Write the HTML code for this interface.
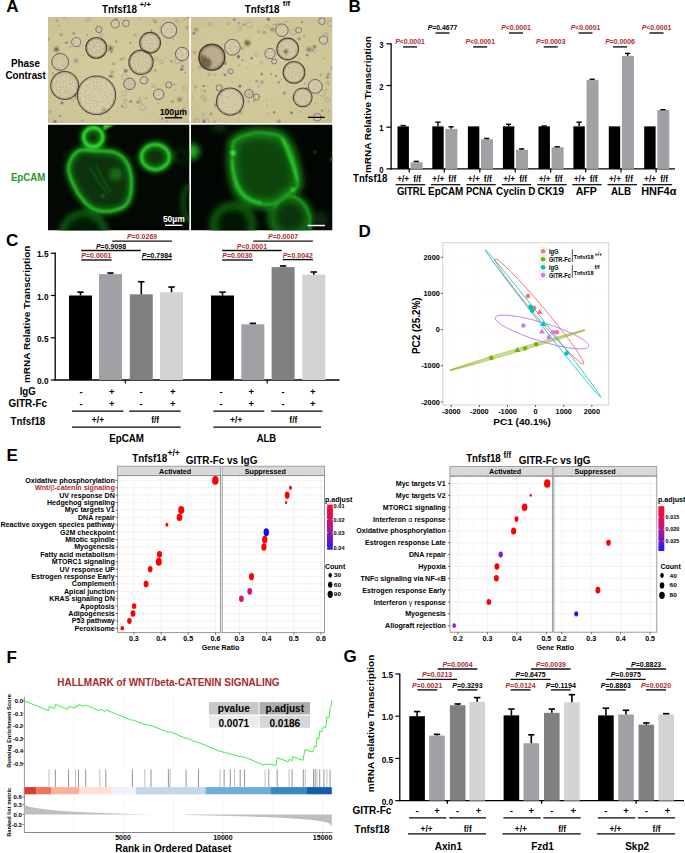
<!DOCTYPE html><html><head><meta charset="utf-8"><style>html,body{margin:0;padding:0;background:#fff;overflow:hidden;}svg{display:block;} text{font-family:"Liberation Sans", sans-serif;}</style></head><body>
<svg width="685" height="853" viewBox="0 0 685 853">
<defs>
<radialGradient id="beigeGrad" cx="0.5" cy="0.5" r="0.75"><stop offset="0" stop-color="#d5cc9e"/><stop offset="0.7" stop-color="#cfc697"/><stop offset="1" stop-color="#c9bf90"/></radialGradient>
<filter id="speck" x="0" y="0" width="1" height="1"><feTurbulence type="fractalNoise" baseFrequency="0.35" numOctaves="2" seed="3"/><feColorMatrix type="matrix" values="0 0 0 0 0.35  0 0 0 0 0.25  0 0 0 0 0.45  0 0 0 -2.2 1.25"/></filter>
<filter id="grain" x="0" y="0" width="1" height="1"><feTurbulence type="fractalNoise" baseFrequency="0.6" numOctaves="2" seed="7"/><feColorMatrix type="matrix" values="0 0 0 0 0.45  0 0 0 0 0.40  0 0 0 0 0.28  0 0 0 -2.0 1.12"/></filter>
<filter id="grainL" x="0" y="0" width="1" height="1"><feTurbulence type="fractalNoise" baseFrequency="0.7" numOctaves="1" seed="21"/><feColorMatrix type="matrix" values="0 0 0 0 0.88  0 0 0 0 0.86  0 0 0 0 0.70  0 0 0 1.5 -0.78"/></filter>
<filter id="blobf" x="-50%" y="-50%" width="200%" height="200%"><feGaussianBlur stdDeviation="0.9"/></filter>
<filter id="soft" x="0" y="0" width="1" height="1"><feGaussianBlur stdDeviation="0.55"/></filter>
<filter id="soft2" x="-5%" y="-5%" width="110%" height="110%"><feGaussianBlur stdDeviation="0.3"/></filter>
<filter id="glowB" x="-20%" y="-20%" width="140%" height="140%"><feGaussianBlur stdDeviation="2.4"/></filter>
<filter id="glowC" x="-20%" y="-20%" width="140%" height="140%"><feGaussianBlur stdDeviation="3.2"/></filter>
<filter id="glowW" x="-20%" y="-20%" width="140%" height="140%"><feGaussianBlur stdDeviation="2.2"/></filter>
<filter id="glow" x="-20%" y="-20%" width="140%" height="140%"><feGaussianBlur stdDeviation="0.8"/></filter>
<filter id="glow2" x="-20%" y="-20%" width="140%" height="140%"><feGaussianBlur stdDeviation="1.3"/></filter>
<clipPath id="clip48"><rect x="48" y="17" width="141.5" height="106"/></clipPath>
<clipPath id="clip191"><rect x="191" y="17" width="141.5" height="106"/></clipPath>
<clipPath id="clipE48"><rect x="48" y="124.5" width="141.5" height="106"/></clipPath>
<linearGradient id="padj" x1="0" y1="0" x2="0" y2="1"><stop offset="0" stop-color="#ff0a2a"/><stop offset="0.5" stop-color="#c0148e"/><stop offset="1" stop-color="#2a14ff"/></linearGradient>
<clipPath id="clipD"><rect x="443.3" y="243.2" width="165" height="161.3"/></clipPath>
<clipPath id="clipE191"><rect x="191" y="124.5" width="141.5" height="106"/></clipPath>
</defs>
<defs><clipPath id="cc48"><circle cx="96.5" cy="95.3" r="19.2"/><circle cx="64.7" cy="85.5" r="14.0"/><circle cx="60.2" cy="61.9" r="8.4"/><circle cx="96.3" cy="47.9" r="10.4"/><circle cx="141.0" cy="62.3" r="12.1"/><circle cx="150.1" cy="42.7" r="10.4"/><circle cx="168.9" cy="30.2" r="7.9"/><circle cx="182.1" cy="54.0" r="6.7"/><circle cx="76.2" cy="42.1" r="4.6"/><circle cx="129.5" cy="83.9" r="5.8"/><circle cx="158.7" cy="94.3" r="5.2"/><circle cx="125.9" cy="23.3" r="3.3"/><circle cx="98.8" cy="29.6" r="3.1"/><circle cx="144.1" cy="80.3" r="3.8"/><circle cx="168.7" cy="84.9" r="3.1"/><circle cx="115.3" cy="23.9" r="4.2"/></clipPath><clipPath id="cc191"><circle cx="211.9" cy="57.3" r="12.9"/><circle cx="232.4" cy="47.3" r="7.9"/><circle cx="230.1" cy="101.6" r="13.6"/><circle cx="287.7" cy="49.0" r="10.9"/><circle cx="294.0" cy="72.4" r="10.9"/><circle cx="302.7" cy="97.4" r="9.4"/><circle cx="315.3" cy="86.4" r="6.9"/><circle cx="281.9" cy="30.2" r="6.3"/><circle cx="270.0" cy="53.6" r="5.2"/><circle cx="248.9" cy="93.7" r="4.2"/><circle cx="323.6" cy="40.0" r="4.2"/><circle cx="298.6" cy="30.2" r="2.9"/><circle cx="321.9" cy="21.2" r="3.3"/><circle cx="256.4" cy="97.0" r="3.1"/><circle cx="219.2" cy="88.0" r="3.1"/><circle cx="230.7" cy="71.3" r="2.5"/><circle cx="317.3" cy="117.3" r="3.8"/><circle cx="274.1" cy="61.5" r="2.5"/></clipPath></defs>
<rect x="0" y="0" width="685" height="853" fill="#fff"/>
<text x="6.20" y="12.30" font-size="17" text-anchor="start" font-weight="bold" fill="#000">A</text>
<text x="348.60" y="12.30" font-size="17" text-anchor="start" font-weight="bold" fill="#000">B</text>
<text x="102.10" y="13.10" font-size="11" text-anchor="start" font-weight="bold" fill="#000" textLength="34.90" lengthAdjust="spacingAndGlyphs">Tnfsf18</text>
<text x="139.40" y="7.30" font-size="7" text-anchor="start" font-weight="bold" fill="#000" textLength="11.70" lengthAdjust="spacingAndGlyphs">+/+</text>
<text x="244.70" y="13.10" font-size="11" text-anchor="start" font-weight="bold" fill="#000" textLength="34.80" lengthAdjust="spacingAndGlyphs">Tnfsf18</text>
<text x="282.80" y="6.30" font-size="7" text-anchor="start" font-weight="bold" fill="#000" textLength="7.40" lengthAdjust="spacingAndGlyphs">f/f</text>
<text x="25.45" y="66.50" font-size="10.8" text-anchor="middle" font-weight="bold" fill="#000" textLength="29.10" lengthAdjust="spacingAndGlyphs">Phase</text>
<text x="25.65" y="78.50" font-size="10.8" text-anchor="middle" font-weight="bold" fill="#000" textLength="40.30" lengthAdjust="spacingAndGlyphs">Contrast</text>
<text x="28.10" y="180.70" font-size="10.6" text-anchor="middle" font-weight="bold" fill="#2a962a" textLength="34.40" lengthAdjust="spacingAndGlyphs">EpCAM</text>
<g clip-path="url(#clip48)">
<rect x="48.00" y="17.00" width="141.50" height="106.00" fill="url(#beigeGrad)" />
<g filter="url(#soft)">
<circle cx="112.0" cy="76.3" r="1.77" fill="#8a7a40" opacity="0.45"/><circle cx="169.0" cy="37.1" r="1.43" fill="#8a7a40" opacity="0.53"/><circle cx="160.2" cy="27.0" r="0.55" fill="#6c4f8c" opacity="0.49"/><circle cx="174.0" cy="84.3" r="0.97" fill="#8a7a40" opacity="0.68"/><circle cx="140.5" cy="82.2" r="0.44" fill="#6c4f8c" opacity="0.62"/><circle cx="56.9" cy="20.8" r="1.64" fill="#6a5a50" opacity="0.26"/><circle cx="113.6" cy="63.7" r="1.54" fill="#6a5a50" opacity="0.36"/><circle cx="89.6" cy="17.5" r="0.41" fill="#9c8cb8" opacity="0.38"/><circle cx="189.2" cy="122.5" r="1.53" fill="#9c8cb8" opacity="0.36"/><circle cx="155.3" cy="71.4" r="0.40" fill="#6a5a50" opacity="0.59"/><circle cx="104.7" cy="106.7" r="0.64" fill="#6c4f8c" opacity="0.63"/><circle cx="48.1" cy="39.2" r="1.73" fill="#8a7a40" opacity="0.42"/><circle cx="148.3" cy="61.5" r="0.91" fill="#7b5f98" opacity="0.60"/><circle cx="86.2" cy="26.2" r="0.58" fill="#8a7a40" opacity="0.59"/><circle cx="64.7" cy="43.1" r="0.42" fill="#6c4f8c" opacity="0.46"/><circle cx="116.9" cy="89.3" r="0.46" fill="#6a5a50" opacity="0.34"/><circle cx="151.6" cy="30.9" r="1.06" fill="#6c4f8c" opacity="0.43"/><circle cx="188.1" cy="17.0" r="1.60" fill="#6a5a50" opacity="0.39"/><circle cx="173.2" cy="39.3" r="0.65" fill="#6a5a50" opacity="0.54"/><circle cx="62.2" cy="121.9" r="0.47" fill="#5a4a70" opacity="0.25"/><circle cx="134.4" cy="105.0" r="0.64" fill="#6c4f8c" opacity="0.29"/><circle cx="130.5" cy="42.8" r="0.98" fill="#5a4a70" opacity="0.53"/><circle cx="66.0" cy="79.3" r="1.51" fill="#7b5f98" opacity="0.64"/><circle cx="73.9" cy="33.3" r="1.72" fill="#6a5a50" opacity="0.36"/><circle cx="74.9" cy="95.4" r="1.81" fill="#7b5f98" opacity="0.56"/><circle cx="102.9" cy="68.1" r="0.41" fill="#6c4f8c" opacity="0.30"/><circle cx="53.5" cy="119.0" r="0.49" fill="#9c8cb8" opacity="0.43"/><circle cx="107.5" cy="112.9" r="0.79" fill="#6a5a50" opacity="0.33"/><circle cx="149.9" cy="24.3" r="0.48" fill="#6a5a50" opacity="0.54"/><circle cx="135.1" cy="24.9" r="0.47" fill="#7b5f98" opacity="0.59"/><circle cx="57.8" cy="60.6" r="0.50" fill="#6c4f8c" opacity="0.33"/><circle cx="100.2" cy="77.6" r="0.43" fill="#5a4a70" opacity="0.31"/><circle cx="111.7" cy="52.1" r="1.26" fill="#6a5a50" opacity="0.51"/><circle cx="67.9" cy="20.7" r="0.40" fill="#5a4a70" opacity="0.57"/><circle cx="184.2" cy="19.3" r="1.05" fill="#8a7a40" opacity="0.28"/><circle cx="92.0" cy="31.5" r="0.41" fill="#8a7a40" opacity="0.50"/><circle cx="152.3" cy="112.4" r="1.27" fill="#9c8cb8" opacity="0.31"/><circle cx="184.3" cy="53.2" r="0.41" fill="#8a7a40" opacity="0.66"/><circle cx="171.3" cy="61.2" r="1.40" fill="#8a7a40" opacity="0.51"/><circle cx="136.4" cy="57.5" r="0.94" fill="#6a5a50" opacity="0.28"/><circle cx="60.8" cy="29.3" r="0.51" fill="#8a7a40" opacity="0.58"/><circle cx="103.0" cy="94.9" r="0.94" fill="#8a7a40" opacity="0.46"/><circle cx="124.6" cy="72.0" r="0.82" fill="#5a4a70" opacity="0.52"/><circle cx="116.1" cy="41.4" r="1.18" fill="#8a7a40" opacity="0.60"/><circle cx="141.4" cy="68.5" r="1.69" fill="#5a4a70" opacity="0.39"/><circle cx="144.0" cy="38.5" r="0.45" fill="#5a4a70" opacity="0.55"/><circle cx="110.5" cy="111.5" r="0.57" fill="#9c8cb8" opacity="0.36"/><circle cx="137.7" cy="102.2" r="1.31" fill="#7b5f98" opacity="0.65"/><circle cx="102.4" cy="78.8" r="0.56" fill="#7b5f98" opacity="0.31"/><circle cx="97.6" cy="111.9" r="0.40" fill="#6c4f8c" opacity="0.68"/><circle cx="87.2" cy="34.9" r="0.72" fill="#5a4a70" opacity="0.67"/><circle cx="165.6" cy="57.6" r="0.83" fill="#9c8cb8" opacity="0.39"/><circle cx="166.7" cy="121.1" r="0.73" fill="#6c4f8c" opacity="0.62"/><circle cx="87.4" cy="81.4" r="1.14" fill="#5a4a70" opacity="0.51"/><circle cx="91.7" cy="100.9" r="0.40" fill="#7b5f98" opacity="0.43"/><circle cx="74.9" cy="98.5" r="0.51" fill="#7b5f98" opacity="0.61"/><circle cx="187.2" cy="29.2" r="0.42" fill="#6a5a50" opacity="0.54"/><circle cx="162.2" cy="118.6" r="1.15" fill="#7b5f98" opacity="0.62"/><circle cx="84.2" cy="92.7" r="1.31" fill="#6a5a50" opacity="0.57"/><circle cx="73.3" cy="45.9" r="0.59" fill="#9c8cb8" opacity="0.68"/><circle cx="118.8" cy="122.7" r="0.44" fill="#9c8cb8" opacity="0.66"/><circle cx="60.3" cy="115.9" r="1.23" fill="#7b5f98" opacity="0.45"/><circle cx="75.9" cy="111.1" r="0.40" fill="#6a5a50" opacity="0.51"/><circle cx="172.4" cy="101.5" r="1.83" fill="#8a7a40" opacity="0.40"/><circle cx="187.0" cy="27.5" r="1.60" fill="#9c8cb8" opacity="0.67"/><circle cx="65.5" cy="42.7" r="0.64" fill="#6c4f8c" opacity="0.69"/><circle cx="124.0" cy="100.8" r="0.56" fill="#9c8cb8" opacity="0.64"/><circle cx="97.3" cy="25.8" r="0.71" fill="#6a5a50" opacity="0.44"/><circle cx="86.9" cy="114.5" r="0.48" fill="#6c4f8c" opacity="0.44"/><circle cx="53.0" cy="73.5" r="1.15" fill="#7b5f98" opacity="0.46"/><circle cx="189.5" cy="112.5" r="0.83" fill="#9c8cb8" opacity="0.56"/><circle cx="181.8" cy="69.2" r="1.84" fill="#6c4f8c" opacity="0.59"/><circle cx="110.2" cy="76.2" r="1.51" fill="#6a5a50" opacity="0.54"/><circle cx="122.0" cy="106.4" r="0.90" fill="#5a4a70" opacity="0.55"/><circle cx="183.1" cy="109.2" r="0.99" fill="#5a4a70" opacity="0.63"/><circle cx="185.0" cy="72.6" r="0.93" fill="#7b5f98" opacity="0.43"/><circle cx="64.2" cy="17.5" r="0.63" fill="#6a5a50" opacity="0.69"/><circle cx="121.0" cy="59.5" r="1.43" fill="#6a5a50" opacity="0.30"/><circle cx="61.2" cy="34.7" r="1.79" fill="#8a7a40" opacity="0.44"/><circle cx="183.4" cy="114.9" r="0.52" fill="#8a7a40" opacity="0.47"/><circle cx="96.1" cy="112.5" r="1.80" fill="#8a7a40" opacity="0.49"/><circle cx="63.4" cy="61.5" r="0.40" fill="#5a4a70" opacity="0.31"/><circle cx="158.3" cy="19.4" r="0.46" fill="#7b5f98" opacity="0.26"/><circle cx="88.2" cy="93.7" r="0.50" fill="#8a7a40" opacity="0.30"/><circle cx="151.4" cy="30.0" r="0.82" fill="#5a4a70" opacity="0.57"/><circle cx="147.2" cy="110.1" r="0.40" fill="#9c8cb8" opacity="0.44"/><circle cx="122.9" cy="33.9" r="0.47" fill="#9c8cb8" opacity="0.49"/><circle cx="78.9" cy="39.9" r="0.87" fill="#6a5a50" opacity="0.64"/><circle cx="80.9" cy="95.5" r="1.45" fill="#7b5f98" opacity="0.39"/><circle cx="92.6" cy="114.8" r="0.48" fill="#7b5f98" opacity="0.65"/><circle cx="67.0" cy="42.4" r="1.24" fill="#5a4a70" opacity="0.42"/><circle cx="109.5" cy="116.8" r="0.87" fill="#9c8cb8" opacity="0.31"/><circle cx="105.0" cy="89.6" r="0.40" fill="#7b5f98" opacity="0.51"/><circle cx="98.6" cy="104.0" r="0.61" fill="#9c8cb8" opacity="0.48"/><circle cx="155.3" cy="70.3" r="1.15" fill="#7b5f98" opacity="0.61"/><circle cx="116.2" cy="19.6" r="1.33" fill="#6a5a50" opacity="0.48"/><circle cx="128.5" cy="32.5" r="0.45" fill="#7b5f98" opacity="0.33"/><circle cx="70.4" cy="47.0" r="1.12" fill="#6a5a50" opacity="0.28"/><circle cx="182.6" cy="66.0" r="1.34" fill="#5a4a70" opacity="0.43"/><circle cx="108.3" cy="54.6" r="0.47" fill="#5a4a70" opacity="0.26"/><circle cx="147.2" cy="106.5" r="0.45" fill="#8a7a40" opacity="0.41"/><circle cx="100.4" cy="114.7" r="0.99" fill="#6c4f8c" opacity="0.48"/><circle cx="50.2" cy="111.7" r="1.43" fill="#9c8cb8" opacity="0.64"/><circle cx="176.6" cy="116.6" r="0.92" fill="#7b5f98" opacity="0.48"/><circle cx="187.0" cy="102.3" r="0.51" fill="#6c4f8c" opacity="0.58"/><circle cx="158.1" cy="103.4" r="0.66" fill="#5a4a70" opacity="0.65"/><circle cx="146.3" cy="98.3" r="1.34" fill="#8a7a40" opacity="0.34"/><circle cx="74.2" cy="101.5" r="0.55" fill="#6c4f8c" opacity="0.25"/><circle cx="98.3" cy="84.7" r="1.02" fill="#7b5f98" opacity="0.37"/><circle cx="184.0" cy="48.7" r="0.47" fill="#8a7a40" opacity="0.51"/><circle cx="123.4" cy="58.3" r="2.00" fill="#9c8cb8" opacity="0.35"/><circle cx="64.9" cy="58.9" r="0.93" fill="#6c4f8c" opacity="0.53"/><circle cx="152.5" cy="44.2" r="0.66" fill="#6c4f8c" opacity="0.59"/><circle cx="139.7" cy="18.1" r="0.51" fill="#5a4a70" opacity="0.66"/><circle cx="125.8" cy="70.8" r="1.90" fill="#6a5a50" opacity="0.63"/><circle cx="62.1" cy="64.1" r="1.06" fill="#6a5a50" opacity="0.52"/><circle cx="155.4" cy="21.8" r="1.78" fill="#7b5f98" opacity="0.42"/><circle cx="185.3" cy="107.7" r="0.87" fill="#6a5a50" opacity="0.28"/><circle cx="181.8" cy="61.6" r="0.84" fill="#6a5a50" opacity="0.39"/><circle cx="123.1" cy="68.2" r="0.52" fill="#5a4a70" opacity="0.55"/><circle cx="153.8" cy="19.8" r="1.35" fill="#6a5a50" opacity="0.27"/><circle cx="70.2" cy="97.0" r="0.64" fill="#5a4a70" opacity="0.59"/><circle cx="55.1" cy="121.8" r="1.83" fill="#6c4f8c" opacity="0.61"/><circle cx="79.7" cy="93.2" r="0.50" fill="#7b5f98" opacity="0.27"/><circle cx="61.9" cy="102.9" r="1.72" fill="#7b5f98" opacity="0.69"/><circle cx="163.6" cy="81.0" r="0.42" fill="#6a5a50" opacity="0.44"/><circle cx="64.7" cy="108.3" r="0.60" fill="#7b5f98" opacity="0.31"/><circle cx="110.7" cy="87.8" r="0.73" fill="#5a4a70" opacity="0.54"/><circle cx="144.5" cy="55.6" r="1.29" fill="#7b5f98" opacity="0.68"/><circle cx="151.9" cy="42.3" r="0.42" fill="#5a4a70" opacity="0.60"/><circle cx="136.4" cy="55.1" r="0.52" fill="#9c8cb8" opacity="0.58"/><circle cx="146.9" cy="37.1" r="0.52" fill="#7b5f98" opacity="0.34"/><circle cx="83.2" cy="120.9" r="1.74" fill="#9c8cb8" opacity="0.27"/><circle cx="56.6" cy="45.7" r="0.69" fill="#6a5a50" opacity="0.27"/><circle cx="79.5" cy="46.5" r="1.31" fill="#9c8cb8" opacity="0.32"/><circle cx="81.2" cy="121.0" r="0.77" fill="#5a4a70" opacity="0.34"/><circle cx="96.6" cy="96.0" r="1.53" fill="#6c4f8c" opacity="0.61"/><circle cx="111.3" cy="104.1" r="1.52" fill="#7b5f98" opacity="0.45"/><circle cx="153.7" cy="58.4" r="0.44" fill="#7b5f98" opacity="0.54"/><circle cx="188.0" cy="51.5" r="0.88" fill="#9c8cb8" opacity="0.62"/><circle cx="74.0" cy="86.3" r="0.94" fill="#8a7a40" opacity="0.64"/><circle cx="59.1" cy="25.8" r="0.91" fill="#8a7a40" opacity="0.62"/><circle cx="113.6" cy="104.3" r="0.40" fill="#5a4a70" opacity="0.35"/><circle cx="141.7" cy="25.7" r="0.55" fill="#9c8cb8" opacity="0.59"/><circle cx="94.4" cy="110.5" r="0.48" fill="#9c8cb8" opacity="0.58"/><circle cx="99.8" cy="29.4" r="1.20" fill="#6a5a50" opacity="0.52"/><circle cx="175.7" cy="89.8" r="0.52" fill="#6a5a50" opacity="0.61"/><circle cx="91.1" cy="50.7" r="0.66" fill="#9c8cb8" opacity="0.65"/><circle cx="83.1" cy="55.3" r="0.61" fill="#5a4a70" opacity="0.55"/><circle cx="130.8" cy="101.4" r="1.27" fill="#5a4a70" opacity="0.61"/><circle cx="124.5" cy="105.7" r="2.33" fill="none" stroke="#6d5a86" stroke-width="0.6" opacity="0.45"/><circle cx="73.0" cy="97.4" r="2.96" fill="none" stroke="#6d5a86" stroke-width="0.6" opacity="0.45"/><circle cx="87.8" cy="19.4" r="2.23" fill="none" stroke="#6d5a86" stroke-width="0.6" opacity="0.45"/><circle cx="125.0" cy="77.2" r="3.13" fill="none" stroke="#6d5a86" stroke-width="0.6" opacity="0.45"/><circle cx="140.1" cy="102.3" r="1.33" fill="none" stroke="#6d5a86" stroke-width="0.6" opacity="0.45"/><circle cx="125.4" cy="100.5" r="1.37" fill="none" stroke="#6d5a86" stroke-width="0.6" opacity="0.45"/><circle cx="59.6" cy="95.1" r="3.00" fill="none" stroke="#6d5a86" stroke-width="0.6" opacity="0.45"/><circle cx="60.0" cy="84.2" r="1.49" fill="none" stroke="#6d5a86" stroke-width="0.6" opacity="0.45"/><circle cx="153.5" cy="85.8" r="1.69" fill="none" stroke="#6d5a86" stroke-width="0.6" opacity="0.45"/><circle cx="79.2" cy="98.1" r="2.24" fill="none" stroke="#6d5a86" stroke-width="0.6" opacity="0.45"/><circle cx="156.2" cy="58.8" r="1.88" fill="none" stroke="#6d5a86" stroke-width="0.6" opacity="0.45"/><circle cx="185.0" cy="88.3" r="2.19" fill="none" stroke="#6d5a86" stroke-width="0.6" opacity="0.45"/><circle cx="124.0" cy="93.4" r="2.62" fill="none" stroke="#6d5a86" stroke-width="0.6" opacity="0.45"/><circle cx="177.5" cy="60.5" r="2.85" fill="none" stroke="#6d5a86" stroke-width="0.6" opacity="0.45"/><circle cx="142.3" cy="107.5" r="2.81" fill="none" stroke="#6d5a86" stroke-width="0.6" opacity="0.45"/><circle cx="166.0" cy="111.2" r="3.12" fill="none" stroke="#6d5a86" stroke-width="0.6" opacity="0.45"/><circle cx="138.6" cy="72.5" r="2.62" fill="none" stroke="#6d5a86" stroke-width="0.6" opacity="0.45"/><circle cx="161.5" cy="61.7" r="2.04" fill="none" stroke="#6d5a86" stroke-width="0.6" opacity="0.45"/><circle cx="68.7" cy="95.6" r="3.18" fill="none" stroke="#6d5a86" stroke-width="0.6" opacity="0.45"/><circle cx="101.1" cy="34.8" r="1.61" fill="none" stroke="#6d5a86" stroke-width="0.6" opacity="0.45"/><circle cx="108.1" cy="48.0" r="3.14" fill="none" stroke="#6d5a86" stroke-width="0.6" opacity="0.45"/><circle cx="56.4" cy="49.7" r="1.43" fill="none" stroke="#6d5a86" stroke-width="0.6" opacity="0.45"/><circle cx="139.7" cy="99.2" r="1.56" fill="none" stroke="#6d5a86" stroke-width="0.6" opacity="0.45"/><circle cx="56.8" cy="65.6" r="2.37" fill="none" stroke="#6d5a86" stroke-width="0.6" opacity="0.45"/><circle cx="176.7" cy="20.9" r="1.42" fill="none" stroke="#6d5a86" stroke-width="0.6" opacity="0.45"/>
</g>
<g filter="url(#blobf)">
<circle cx="56.4" cy="49.4" r="2.2" fill="#4a3a20" opacity="0.75"/>
<circle cx="110.7" cy="48.4" r="2.2" fill="#5a4a30" opacity="0.75"/>
<circle cx="76.2" cy="60.9" r="1.6" fill="#6a5a70" opacity="0.75"/>
<circle cx="179.6" cy="99.5" r="2.0" fill="#6a5a40" opacity="0.75"/>
<circle cx="58" cy="76" r="1.5" fill="#6a5a40" opacity="0.75"/>
<circle cx="150" cy="70" r="1.2" fill="#6a5a70" opacity="0.75"/>
<circle cx="112" cy="72" r="1.5" fill="#7a6a80" opacity="0.75"/>
<circle cx="135" cy="35" r="1.2" fill="#7a6a50" opacity="0.75"/>
</g>
<circle cx="96.5" cy="95.3" r="19.2" fill="#d6cda6"/>
<circle cx="64.7" cy="85.5" r="14.0" fill="#d2c9a0"/>
<circle cx="60.2" cy="61.9" r="8.4" fill="#d1c89f"/>
<circle cx="96.3" cy="47.9" r="10.4" fill="#cfc69e"/>
<circle cx="141.0" cy="62.3" r="12.1" fill="#d2c9a0"/>
<circle cx="150.1" cy="42.7" r="10.4" fill="#d0c7a0"/>
<circle cx="168.9" cy="30.2" r="7.9" fill="#d4cba5"/>
<circle cx="182.1" cy="54.0" r="6.7" fill="#d4cba5"/>
<circle cx="76.2" cy="42.1" r="4.6" fill="#d4cba5"/>
<circle cx="129.5" cy="83.9" r="5.8" fill="#cbc2a0"/>
<circle cx="158.7" cy="94.3" r="5.2" fill="#d4cba5"/>
<circle cx="125.9" cy="23.3" r="3.3" fill="#d4cba5"/>
<circle cx="98.8" cy="29.6" r="3.1" fill="#d4cba5"/>
<circle cx="144.1" cy="80.3" r="3.8" fill="#d4cba5"/>
<circle cx="168.7" cy="84.9" r="3.1" fill="#d4cba5"/>
<circle cx="115.3" cy="23.9" r="4.2" fill="#d4cba5"/>
<g clip-path="url(#cc48)"><rect x="48" y="17" width="141.5" height="106" filter="url(#grainL)"/><rect x="48" y="17" width="141.5" height="106" filter="url(#grain)"/></g>
<g filter="url(#blobf)">
<circle cx="104" cy="110" r="2.2" fill="#9a8a68" opacity="0.7"/>
</g>
<g filter="url(#soft2)">
<circle cx="96.5" cy="95.3" r="19.2" fill="none" stroke="#3e3432" stroke-width="1.04" stroke-opacity="0.9"/>
<circle cx="96.5" cy="95.3" r="18.03" fill="none" stroke="#6a6040" stroke-width="0.91" stroke-opacity="0.35"/>
<circle cx="64.7" cy="85.5" r="14.0" fill="none" stroke="#3e3432" stroke-width="1.04" stroke-opacity="0.9"/>
<circle cx="64.7" cy="85.5" r="12.83" fill="none" stroke="#6a6040" stroke-width="0.91" stroke-opacity="0.35"/>
<circle cx="60.2" cy="61.9" r="8.4" fill="none" stroke="#4b3a5e" stroke-width="0.88" stroke-opacity="0.9"/>
<circle cx="96.3" cy="47.9" r="10.4" fill="none" stroke="#3e3432" stroke-width="1.20" stroke-opacity="0.9"/>
<circle cx="96.3" cy="47.9" r="9.05" fill="none" stroke="#6a6040" stroke-width="1.05" stroke-opacity="0.35"/>
<circle cx="141.0" cy="62.3" r="12.1" fill="none" stroke="#3e3432" stroke-width="1.20" stroke-opacity="0.9"/>
<circle cx="141.0" cy="62.3" r="10.75" fill="none" stroke="#6a6040" stroke-width="1.05" stroke-opacity="0.35"/>
<circle cx="150.1" cy="42.7" r="10.4" fill="none" stroke="#3e3432" stroke-width="1.20" stroke-opacity="0.9"/>
<circle cx="150.1" cy="42.7" r="9.05" fill="none" stroke="#6a6040" stroke-width="1.05" stroke-opacity="0.35"/>
<circle cx="168.9" cy="30.2" r="7.9" fill="none" stroke="#4b3a5e" stroke-width="0.80" stroke-opacity="0.9"/>
<circle cx="182.1" cy="54.0" r="6.7" fill="none" stroke="#4b3a5e" stroke-width="0.80" stroke-opacity="0.9"/>
<circle cx="76.2" cy="42.1" r="4.6" fill="none" stroke="#4b3a5e" stroke-width="0.64" stroke-opacity="0.9"/>
<circle cx="129.5" cy="83.9" r="5.8" fill="none" stroke="#4b3a5e" stroke-width="0.80" stroke-opacity="0.9"/>
<circle cx="158.7" cy="94.3" r="5.2" fill="none" stroke="#4b3a5e" stroke-width="0.80" stroke-opacity="0.9"/>
<circle cx="125.9" cy="23.3" r="3.3" fill="none" stroke="#4b3a5e" stroke-width="0.64" stroke-opacity="0.9"/>
<circle cx="98.8" cy="29.6" r="3.1" fill="none" stroke="#4b3a5e" stroke-width="0.64" stroke-opacity="0.9"/>
<circle cx="144.1" cy="80.3" r="3.8" fill="none" stroke="#4b3a5e" stroke-width="0.64" stroke-opacity="0.9"/>
<circle cx="168.7" cy="84.9" r="3.1" fill="none" stroke="#4b3a5e" stroke-width="0.64" stroke-opacity="0.9"/>
<circle cx="115.3" cy="23.9" r="4.2" fill="none" stroke="#4b3a5e" stroke-width="0.64" stroke-opacity="0.9"/>
</g>
</g>
<g clip-path="url(#clip191)">
<rect x="191.00" y="17.00" width="141.50" height="106.00" fill="url(#beigeGrad)" />
<g filter="url(#soft)">
<circle cx="258.2" cy="86.7" r="1.11" fill="#7b5f98" opacity="0.42"/><circle cx="332.0" cy="68.1" r="1.06" fill="#8a7a40" opacity="0.56"/><circle cx="276.1" cy="76.2" r="1.10" fill="#7b5f98" opacity="0.69"/><circle cx="243.0" cy="53.0" r="0.47" fill="#6a5a50" opacity="0.62"/><circle cx="201.6" cy="89.8" r="0.58" fill="#8a7a40" opacity="0.61"/><circle cx="203.4" cy="114.4" r="1.47" fill="#9c8cb8" opacity="0.48"/><circle cx="203.9" cy="121.6" r="1.83" fill="#6c4f8c" opacity="0.55"/><circle cx="328.4" cy="74.2" r="1.64" fill="#6a5a50" opacity="0.32"/><circle cx="289.6" cy="22.4" r="0.45" fill="#6c4f8c" opacity="0.43"/><circle cx="250.3" cy="80.2" r="0.76" fill="#8a7a40" opacity="0.49"/><circle cx="281.7" cy="25.8" r="0.46" fill="#9c8cb8" opacity="0.37"/><circle cx="324.2" cy="108.8" r="0.64" fill="#5a4a70" opacity="0.30"/><circle cx="224.2" cy="55.5" r="0.82" fill="#6a5a50" opacity="0.33"/><circle cx="244.9" cy="108.1" r="0.40" fill="#6c4f8c" opacity="0.35"/><circle cx="251.5" cy="58.2" r="1.35" fill="#6c4f8c" opacity="0.59"/><circle cx="222.2" cy="25.3" r="0.52" fill="#8a7a40" opacity="0.37"/><circle cx="239.7" cy="84.5" r="0.40" fill="#8a7a40" opacity="0.42"/><circle cx="239.1" cy="65.3" r="1.18" fill="#8a7a40" opacity="0.36"/><circle cx="330.9" cy="66.3" r="0.88" fill="#7b5f98" opacity="0.34"/><circle cx="296.9" cy="113.7" r="0.40" fill="#5a4a70" opacity="0.66"/><circle cx="304.4" cy="36.0" r="1.41" fill="#6a5a50" opacity="0.27"/><circle cx="278.6" cy="121.3" r="2.00" fill="#6a5a50" opacity="0.32"/><circle cx="322.2" cy="110.5" r="1.12" fill="#5a4a70" opacity="0.54"/><circle cx="223.5" cy="72.9" r="0.76" fill="#9c8cb8" opacity="0.41"/><circle cx="287.9" cy="64.2" r="1.27" fill="#8a7a40" opacity="0.38"/><circle cx="314.6" cy="46.5" r="1.83" fill="#6a5a50" opacity="0.54"/><circle cx="254.0" cy="101.0" r="1.26" fill="#6a5a50" opacity="0.36"/><circle cx="287.7" cy="90.6" r="0.43" fill="#5a4a70" opacity="0.44"/><circle cx="225.1" cy="63.1" r="1.94" fill="#6a5a50" opacity="0.51"/><circle cx="292.7" cy="116.3" r="0.51" fill="#6c4f8c" opacity="0.44"/><circle cx="274.3" cy="112.5" r="1.40" fill="#6a5a50" opacity="0.50"/><circle cx="329.7" cy="84.6" r="0.64" fill="#7b5f98" opacity="0.26"/><circle cx="291.5" cy="112.8" r="1.42" fill="#6c4f8c" opacity="0.66"/><circle cx="266.7" cy="100.6" r="0.63" fill="#6c4f8c" opacity="0.57"/><circle cx="217.7" cy="45.7" r="1.41" fill="#9c8cb8" opacity="0.49"/><circle cx="279.0" cy="30.2" r="0.86" fill="#9c8cb8" opacity="0.56"/><circle cx="273.2" cy="24.6" r="0.60" fill="#6c4f8c" opacity="0.56"/><circle cx="211.1" cy="26.6" r="0.56" fill="#9c8cb8" opacity="0.33"/><circle cx="287.0" cy="84.5" r="0.70" fill="#7b5f98" opacity="0.26"/><circle cx="260.0" cy="64.0" r="0.45" fill="#9c8cb8" opacity="0.52"/><circle cx="255.7" cy="110.7" r="0.42" fill="#7b5f98" opacity="0.25"/><circle cx="242.0" cy="46.6" r="0.46" fill="#8a7a40" opacity="0.38"/><circle cx="264.1" cy="32.5" r="1.70" fill="#5a4a70" opacity="0.32"/><circle cx="256.7" cy="81.3" r="1.54" fill="#7b5f98" opacity="0.46"/><circle cx="302.1" cy="22.2" r="1.35" fill="#8a7a40" opacity="0.49"/><circle cx="298.7" cy="58.9" r="1.13" fill="#9c8cb8" opacity="0.27"/><circle cx="206.0" cy="77.5" r="0.56" fill="#9c8cb8" opacity="0.26"/><circle cx="300.7" cy="111.9" r="1.04" fill="#7b5f98" opacity="0.31"/><circle cx="222.9" cy="74.7" r="0.50" fill="#6c4f8c" opacity="0.44"/><circle cx="242.6" cy="60.3" r="1.03" fill="#5a4a70" opacity="0.43"/><circle cx="314.5" cy="112.1" r="0.56" fill="#7b5f98" opacity="0.37"/><circle cx="195.6" cy="86.8" r="1.41" fill="#8a7a40" opacity="0.44"/><circle cx="278.4" cy="44.9" r="0.66" fill="#8a7a40" opacity="0.47"/><circle cx="324.0" cy="103.4" r="0.45" fill="#7b5f98" opacity="0.63"/><circle cx="206.5" cy="45.4" r="1.66" fill="#9c8cb8" opacity="0.64"/><circle cx="307.2" cy="55.0" r="1.26" fill="#5a4a70" opacity="0.60"/><circle cx="312.5" cy="50.0" r="1.62" fill="#9c8cb8" opacity="0.65"/><circle cx="194.5" cy="49.7" r="0.40" fill="#7b5f98" opacity="0.34"/><circle cx="218.9" cy="102.7" r="1.77" fill="#7b5f98" opacity="0.60"/><circle cx="268.3" cy="19.3" r="1.73" fill="#5a4a70" opacity="0.56"/><circle cx="266.9" cy="64.5" r="0.85" fill="#9c8cb8" opacity="0.31"/><circle cx="246.6" cy="68.6" r="0.54" fill="#5a4a70" opacity="0.54"/><circle cx="246.0" cy="61.0" r="0.83" fill="#9c8cb8" opacity="0.63"/><circle cx="193.9" cy="33.4" r="1.32" fill="#5a4a70" opacity="0.56"/><circle cx="326.3" cy="89.3" r="0.69" fill="#8a7a40" opacity="0.68"/><circle cx="244.1" cy="24.6" r="1.75" fill="#5a4a70" opacity="0.28"/><circle cx="206.3" cy="25.9" r="0.41" fill="#6c4f8c" opacity="0.67"/><circle cx="195.4" cy="89.8" r="0.91" fill="#9c8cb8" opacity="0.68"/><circle cx="296.7" cy="117.7" r="0.40" fill="#7b5f98" opacity="0.51"/><circle cx="304.7" cy="83.7" r="0.74" fill="#5a4a70" opacity="0.44"/><circle cx="267.8" cy="50.5" r="0.49" fill="#6c4f8c" opacity="0.55"/><circle cx="238.7" cy="23.2" r="1.42" fill="#9c8cb8" opacity="0.67"/><circle cx="242.3" cy="48.6" r="1.76" fill="#6a5a50" opacity="0.31"/><circle cx="230.3" cy="37.9" r="0.42" fill="#8a7a40" opacity="0.58"/><circle cx="307.9" cy="97.3" r="0.58" fill="#8a7a40" opacity="0.59"/><circle cx="315.8" cy="103.0" r="0.59" fill="#6a5a50" opacity="0.54"/><circle cx="278.7" cy="23.8" r="0.59" fill="#5a4a70" opacity="0.53"/><circle cx="208.9" cy="74.3" r="1.85" fill="#9c8cb8" opacity="0.38"/><circle cx="239.6" cy="122.0" r="0.42" fill="#6a5a50" opacity="0.53"/><circle cx="215.5" cy="75.1" r="0.97" fill="#6a5a50" opacity="0.37"/><circle cx="238.5" cy="56.7" r="1.72" fill="#5a4a70" opacity="0.67"/><circle cx="275.7" cy="24.5" r="1.02" fill="#7b5f98" opacity="0.67"/><circle cx="278.8" cy="82.3" r="1.58" fill="#7b5f98" opacity="0.38"/><circle cx="238.0" cy="86.7" r="0.65" fill="#6a5a50" opacity="0.40"/><circle cx="267.0" cy="105.5" r="0.84" fill="#5a4a70" opacity="0.32"/><circle cx="259.7" cy="26.6" r="0.55" fill="#8a7a40" opacity="0.35"/><circle cx="200.5" cy="89.9" r="0.46" fill="#5a4a70" opacity="0.54"/><circle cx="281.2" cy="79.5" r="0.77" fill="#5a4a70" opacity="0.46"/><circle cx="323.6" cy="58.5" r="0.75" fill="#5a4a70" opacity="0.37"/><circle cx="318.8" cy="37.8" r="0.96" fill="#9c8cb8" opacity="0.47"/><circle cx="284.3" cy="92.9" r="1.55" fill="#5a4a70" opacity="0.41"/><circle cx="234.4" cy="19.6" r="1.67" fill="#5a4a70" opacity="0.43"/><circle cx="327.9" cy="112.7" r="0.44" fill="#6a5a50" opacity="0.44"/><circle cx="235.5" cy="44.5" r="0.67" fill="#6c4f8c" opacity="0.31"/><circle cx="255.1" cy="73.3" r="0.50" fill="#7b5f98" opacity="0.30"/><circle cx="308.7" cy="57.2" r="0.78" fill="#6a5a50" opacity="0.29"/><circle cx="218.2" cy="105.9" r="0.63" fill="#6a5a50" opacity="0.66"/><circle cx="322.8" cy="73.0" r="0.62" fill="#7b5f98" opacity="0.31"/><circle cx="220.3" cy="106.5" r="0.42" fill="#7b5f98" opacity="0.37"/><circle cx="266.5" cy="113.1" r="0.42" fill="#6a5a50" opacity="0.48"/><circle cx="327.4" cy="77.2" r="1.55" fill="#6c4f8c" opacity="0.45"/><circle cx="194.0" cy="69.4" r="0.61" fill="#8a7a40" opacity="0.29"/><circle cx="268.3" cy="113.5" r="0.73" fill="#6a5a50" opacity="0.43"/><circle cx="192.1" cy="70.5" r="0.68" fill="#7b5f98" opacity="0.26"/><circle cx="303.7" cy="72.9" r="1.02" fill="#5a4a70" opacity="0.35"/><circle cx="248.6" cy="101.8" r="1.29" fill="#6a5a50" opacity="0.29"/><circle cx="287.2" cy="21.8" r="0.53" fill="#5a4a70" opacity="0.56"/><circle cx="240.0" cy="86.3" r="1.49" fill="#6c4f8c" opacity="0.69"/><circle cx="210.9" cy="80.9" r="0.43" fill="#6a5a50" opacity="0.49"/><circle cx="216.1" cy="104.6" r="1.58" fill="#7b5f98" opacity="0.62"/><circle cx="193.8" cy="32.3" r="0.74" fill="#8a7a40" opacity="0.57"/><circle cx="297.3" cy="104.3" r="1.30" fill="#5a4a70" opacity="0.44"/><circle cx="299.1" cy="38.8" r="1.86" fill="#6a5a50" opacity="0.41"/><circle cx="232.4" cy="82.0" r="0.62" fill="#5a4a70" opacity="0.40"/><circle cx="271.1" cy="74.1" r="0.85" fill="#6a5a50" opacity="0.66"/><circle cx="233.3" cy="109.4" r="0.56" fill="#6c4f8c" opacity="0.66"/><circle cx="224.9" cy="74.8" r="1.38" fill="#7b5f98" opacity="0.65"/><circle cx="203.4" cy="118.6" r="0.99" fill="#9c8cb8" opacity="0.44"/><circle cx="306.9" cy="89.0" r="1.99" fill="#6c4f8c" opacity="0.45"/><circle cx="320.0" cy="50.6" r="0.40" fill="#5a4a70" opacity="0.55"/><circle cx="258.9" cy="38.6" r="0.48" fill="#6c4f8c" opacity="0.62"/><circle cx="285.6" cy="69.3" r="1.44" fill="#7b5f98" opacity="0.48"/><circle cx="286.3" cy="66.6" r="1.36" fill="#9c8cb8" opacity="0.40"/><circle cx="218.0" cy="114.5" r="0.43" fill="#9c8cb8" opacity="0.33"/><circle cx="257.7" cy="64.5" r="0.44" fill="#7b5f98" opacity="0.54"/><circle cx="221.2" cy="44.2" r="0.41" fill="#8a7a40" opacity="0.69"/><circle cx="287.8" cy="71.8" r="0.70" fill="#8a7a40" opacity="0.66"/><circle cx="214.9" cy="106.6" r="0.92" fill="#7b5f98" opacity="0.54"/><circle cx="211.4" cy="74.4" r="0.44" fill="#5a4a70" opacity="0.53"/><circle cx="284.8" cy="21.6" r="0.76" fill="#8a7a40" opacity="0.58"/><circle cx="210.8" cy="113.8" r="1.58" fill="#8a7a40" opacity="0.52"/><circle cx="289.1" cy="76.0" r="0.44" fill="#8a7a40" opacity="0.61"/><circle cx="328.4" cy="111.7" r="0.83" fill="#6a5a50" opacity="0.36"/><circle cx="312.6" cy="44.6" r="0.41" fill="#7b5f98" opacity="0.50"/><circle cx="320.6" cy="74.8" r="0.93" fill="#6c4f8c" opacity="0.44"/><circle cx="196.9" cy="105.1" r="0.43" fill="#7b5f98" opacity="0.53"/><circle cx="299.7" cy="76.0" r="1.12" fill="#9c8cb8" opacity="0.66"/><circle cx="192.2" cy="94.8" r="0.43" fill="#5a4a70" opacity="0.50"/><circle cx="203.6" cy="86.0" r="1.20" fill="#6a5a50" opacity="0.62"/><circle cx="263.2" cy="101.1" r="0.41" fill="#7b5f98" opacity="0.66"/><circle cx="194.6" cy="52.4" r="1.87" fill="#7b5f98" opacity="0.30"/><circle cx="192.4" cy="97.5" r="0.62" fill="#5a4a70" opacity="0.57"/><circle cx="207.8" cy="86.7" r="0.45" fill="#6a5a50" opacity="0.61"/><circle cx="204.7" cy="91.3" r="1.49" fill="#8a7a40" opacity="0.42"/><circle cx="230.6" cy="55.3" r="0.42" fill="#5a4a70" opacity="0.37"/><circle cx="289.5" cy="110.9" r="0.51" fill="#8a7a40" opacity="0.46"/><circle cx="191.6" cy="26.0" r="0.40" fill="#7b5f98" opacity="0.45"/><circle cx="261.6" cy="73.9" r="1.58" fill="#8a7a40" opacity="0.65"/><circle cx="299.3" cy="58.0" r="0.41" fill="#7b5f98" opacity="0.52"/><circle cx="214.8" cy="121.9" r="1.54" fill="#8a7a40" opacity="0.39"/><circle cx="233.2" cy="94.1" r="1.29" fill="none" stroke="#6d5a86" stroke-width="0.6" opacity="0.45"/><circle cx="314.6" cy="50.4" r="1.98" fill="none" stroke="#6d5a86" stroke-width="0.6" opacity="0.45"/><circle cx="235.3" cy="92.6" r="1.55" fill="none" stroke="#6d5a86" stroke-width="0.6" opacity="0.45"/><circle cx="210.2" cy="24.0" r="1.46" fill="none" stroke="#6d5a86" stroke-width="0.6" opacity="0.45"/><circle cx="279.2" cy="121.8" r="1.21" fill="none" stroke="#6d5a86" stroke-width="0.6" opacity="0.45"/><circle cx="256.4" cy="54.7" r="1.82" fill="none" stroke="#6d5a86" stroke-width="0.6" opacity="0.45"/><circle cx="239.6" cy="28.4" r="2.05" fill="none" stroke="#6d5a86" stroke-width="0.6" opacity="0.45"/><circle cx="228.7" cy="23.3" r="1.47" fill="none" stroke="#6d5a86" stroke-width="0.6" opacity="0.45"/><circle cx="322.3" cy="93.1" r="3.17" fill="none" stroke="#6d5a86" stroke-width="0.6" opacity="0.45"/><circle cx="306.2" cy="95.3" r="1.65" fill="none" stroke="#6d5a86" stroke-width="0.6" opacity="0.45"/><circle cx="206.4" cy="121.3" r="2.57" fill="none" stroke="#6d5a86" stroke-width="0.6" opacity="0.45"/><circle cx="293.3" cy="32.2" r="2.78" fill="none" stroke="#6d5a86" stroke-width="0.6" opacity="0.45"/><circle cx="266.8" cy="26.3" r="1.62" fill="none" stroke="#6d5a86" stroke-width="0.6" opacity="0.45"/><circle cx="327.9" cy="83.0" r="1.38" fill="none" stroke="#6d5a86" stroke-width="0.6" opacity="0.45"/><circle cx="202.5" cy="96.5" r="1.90" fill="none" stroke="#6d5a86" stroke-width="0.6" opacity="0.45"/><circle cx="258.6" cy="31.5" r="1.56" fill="none" stroke="#6d5a86" stroke-width="0.6" opacity="0.45"/><circle cx="261.4" cy="62.3" r="1.57" fill="none" stroke="#6d5a86" stroke-width="0.6" opacity="0.45"/><circle cx="212.3" cy="64.2" r="1.43" fill="none" stroke="#6d5a86" stroke-width="0.6" opacity="0.45"/><circle cx="199.8" cy="67.2" r="1.30" fill="none" stroke="#6d5a86" stroke-width="0.6" opacity="0.45"/><circle cx="294.9" cy="98.4" r="2.61" fill="none" stroke="#6d5a86" stroke-width="0.6" opacity="0.45"/><circle cx="325.6" cy="34.6" r="2.04" fill="none" stroke="#6d5a86" stroke-width="0.6" opacity="0.45"/><circle cx="249.7" cy="24.7" r="2.92" fill="none" stroke="#6d5a86" stroke-width="0.6" opacity="0.45"/><circle cx="196.8" cy="121.2" r="2.55" fill="none" stroke="#6d5a86" stroke-width="0.6" opacity="0.45"/><circle cx="330.3" cy="23.4" r="2.99" fill="none" stroke="#6d5a86" stroke-width="0.6" opacity="0.45"/><circle cx="327.4" cy="99.5" r="2.36" fill="none" stroke="#6d5a86" stroke-width="0.6" opacity="0.45"/>
</g>
<g filter="url(#blobf)">
<circle cx="247.4" cy="43.1" r="2.8" fill="#5a4020" opacity="0.75"/>
<circle cx="196.3" cy="29.6" r="1.8" fill="#7a6a50" opacity="0.75"/>
<circle cx="309" cy="49.4" r="2.2" fill="#6a5a40" opacity="0.75"/>
<circle cx="272.5" cy="29.6" r="1.8" fill="#6a5030" opacity="0.75"/>
<circle cx="262" cy="82" r="1.5" fill="#6a5a70" opacity="0.75"/>
<circle cx="240" cy="112" r="1.8" fill="#7a6a50" opacity="0.75"/>
<circle cx="205" cy="100" r="1.3" fill="#7a6a80" opacity="0.75"/>
</g>
<circle cx="211.9" cy="57.3" r="12.9" fill="#b9ab86"/>
<circle cx="232.4" cy="47.3" r="7.9" fill="#d3caa3"/>
<circle cx="230.1" cy="101.6" r="13.6" fill="#d6cda6"/>
<circle cx="287.7" cy="49.0" r="10.9" fill="#d2c9a0"/>
<circle cx="294.0" cy="72.4" r="10.9" fill="#d2c9a0"/>
<circle cx="302.7" cy="97.4" r="9.4" fill="#d2c9a0"/>
<circle cx="315.3" cy="86.4" r="6.9" fill="#d4cba5"/>
<circle cx="281.9" cy="30.2" r="6.3" fill="#d4cba5"/>
<circle cx="270.0" cy="53.6" r="5.2" fill="#d4cba5"/>
<circle cx="248.9" cy="93.7" r="4.2" fill="#c8bf9c"/>
<circle cx="323.6" cy="40.0" r="4.2" fill="#d4cba5"/>
<circle cx="298.6" cy="30.2" r="2.9" fill="#d4cba5"/>
<circle cx="321.9" cy="21.2" r="3.3" fill="#d4cba5"/>
<circle cx="256.4" cy="97.0" r="3.1" fill="#d4cba5"/>
<circle cx="219.2" cy="88.0" r="3.1" fill="#d4cba5"/>
<circle cx="230.7" cy="71.3" r="2.5" fill="#d4cba5"/>
<circle cx="317.3" cy="117.3" r="3.8" fill="#d4cba5"/>
<circle cx="274.1" cy="61.5" r="2.5" fill="#d4cba5"/>
<g clip-path="url(#cc191)"><rect x="191" y="17" width="141.5" height="106" filter="url(#grainL)"/><rect x="191" y="17" width="141.5" height="106" filter="url(#grain)"/></g>
<g filter="url(#blobf)">
<circle cx="286.0" cy="51.5" r="1.9" fill="#3a2a18" opacity="0.7"/>
<circle cx="206.0" cy="63.0" r="5.5" fill="#5a4428" opacity="0.7"/>
<circle cx="202.5" cy="58" r="3.5" fill="#6a5434" opacity="0.7"/>
</g>
<g filter="url(#soft2)">
<circle cx="211.9" cy="57.3" r="12.9" fill="none" stroke="#3e3432" stroke-width="1.60" stroke-opacity="0.9"/>
<circle cx="211.9" cy="57.3" r="11.10" fill="none" stroke="#6a6040" stroke-width="1.40" stroke-opacity="0.35"/>
<circle cx="232.4" cy="47.3" r="7.9" fill="none" stroke="#4b3a5e" stroke-width="0.80" stroke-opacity="0.9"/>
<circle cx="230.1" cy="101.6" r="13.6" fill="none" stroke="#3e3432" stroke-width="1.12" stroke-opacity="0.9"/>
<circle cx="230.1" cy="101.6" r="12.34" fill="none" stroke="#6a6040" stroke-width="0.98" stroke-opacity="0.35"/>
<circle cx="287.7" cy="49.0" r="10.9" fill="none" stroke="#3e3432" stroke-width="1.12" stroke-opacity="0.9"/>
<circle cx="287.7" cy="49.0" r="9.64" fill="none" stroke="#6a6040" stroke-width="0.98" stroke-opacity="0.35"/>
<circle cx="294.0" cy="72.4" r="10.9" fill="none" stroke="#3e3432" stroke-width="1.12" stroke-opacity="0.9"/>
<circle cx="294.0" cy="72.4" r="9.64" fill="none" stroke="#6a6040" stroke-width="0.98" stroke-opacity="0.35"/>
<circle cx="302.7" cy="97.4" r="9.4" fill="none" stroke="#3e3432" stroke-width="1.04" stroke-opacity="0.9"/>
<circle cx="302.7" cy="97.4" r="8.23" fill="none" stroke="#6a6040" stroke-width="0.91" stroke-opacity="0.35"/>
<circle cx="315.3" cy="86.4" r="6.9" fill="none" stroke="#4b3a5e" stroke-width="0.80" stroke-opacity="0.9"/>
<circle cx="281.9" cy="30.2" r="6.3" fill="none" stroke="#4b3a5e" stroke-width="0.80" stroke-opacity="0.9"/>
<circle cx="270.0" cy="53.6" r="5.2" fill="none" stroke="#4b3a5e" stroke-width="0.72" stroke-opacity="0.9"/>
<circle cx="248.9" cy="93.7" r="4.2" fill="none" stroke="#4b3a5e" stroke-width="0.72" stroke-opacity="0.9"/>
<circle cx="323.6" cy="40.0" r="4.2" fill="none" stroke="#4b3a5e" stroke-width="0.64" stroke-opacity="0.9"/>
<circle cx="298.6" cy="30.2" r="2.9" fill="none" stroke="#4b3a5e" stroke-width="0.64" stroke-opacity="0.9"/>
<circle cx="321.9" cy="21.2" r="3.3" fill="none" stroke="#4b3a5e" stroke-width="0.64" stroke-opacity="0.9"/>
<circle cx="256.4" cy="97.0" r="3.1" fill="none" stroke="#4b3a5e" stroke-width="0.64" stroke-opacity="0.9"/>
<circle cx="219.2" cy="88.0" r="3.1" fill="none" stroke="#4b3a5e" stroke-width="0.64" stroke-opacity="0.9"/>
<circle cx="230.7" cy="71.3" r="2.5" fill="none" stroke="#4b3a5e" stroke-width="0.64" stroke-opacity="0.9"/>
<circle cx="317.3" cy="117.3" r="3.8" fill="none" stroke="#4b3a5e" stroke-width="0.64" stroke-opacity="0.9"/>
<circle cx="274.1" cy="61.5" r="2.5" fill="none" stroke="#4b3a5e" stroke-width="0.64" stroke-opacity="0.9"/>
</g>
</g>
<text x="173.30" y="115.00" font-size="8.4" text-anchor="middle" font-weight="bold" fill="#000" textLength="27.20" lengthAdjust="spacingAndGlyphs">100µm</text>
<rect x="165.00" y="117.10" width="17.30" height="1.30" fill="#000" />
<rect x="308.00" y="116.70" width="16.70" height="1.30" fill="#000" />
<g clip-path="url(#clipE48)">
<rect x="48.00" y="124.50" width="141.50" height="106.00" fill="#030803" />
<g filter="url(#glowB)">
<path d="M78.10,151.00 C82.83,148.35 90.85,150.55 97.00,150.80 C103.15,151.05 110.00,150.47 115.00,152.50 C120.00,154.53 124.25,157.72 127.00,163.00 C129.75,168.28 131.58,177.32 131.50,184.20 C131.42,191.08 129.75,199.87 126.50,204.30 C123.25,208.73 117.13,209.88 112.00,210.80 C106.87,211.72 100.30,211.30 95.70,209.80 C91.10,208.30 88.17,206.07 84.40,201.80 C80.63,197.53 75.73,190.05 73.10,184.20 C70.47,178.35 67.77,172.23 68.60,166.70 C69.43,161.17 73.37,153.65 78.10,151.00 Z" fill="#093209" stroke="#127212" stroke-width="7"/>
<circle cx="93.2" cy="137.2" r="9.8" fill="#0a320a" stroke="#159015" stroke-width="6"/>
<ellipse cx="155.4" cy="156.9" rx="14.2" ry="12.6" fill="#0b360b" stroke="#148a14" stroke-width="6"/>
<circle cx="83.8" cy="235" r="22" fill="#061c06" stroke="#0f500f" stroke-width="7"/>
<ellipse cx="190" cy="203" rx="7" ry="17" fill="none" stroke="#0f4c0f" stroke-width="5"/>
<circle cx="181.7" cy="156.6" r="6.5" fill="none" stroke="#0a2e0a" stroke-width="3"/>
<circle cx="115.8" cy="174.2" r="6" fill="#137013"/>
</g>
<g filter="url(#glow)">
<path d="M78.10,151.00 C82.83,148.35 90.85,150.55 97.00,150.80 C103.15,151.05 110.00,150.47 115.00,152.50 C120.00,154.53 124.25,157.72 127.00,163.00 C129.75,168.28 131.58,177.32 131.50,184.20 C131.42,191.08 129.75,199.87 126.50,204.30 C123.25,208.73 117.13,209.88 112.00,210.80 C106.87,211.72 100.30,211.30 95.70,209.80 C91.10,208.30 88.17,206.07 84.40,201.80 C80.63,197.53 75.73,190.05 73.10,184.20 C70.47,178.35 67.77,172.23 68.60,166.70 C69.43,161.17 73.37,153.65 78.10,151.00 Z" fill="none" stroke="#2bcc2b" stroke-width="2.3"/>
<circle cx="93.2" cy="137.2" r="9.6" fill="none" stroke="#36e636" stroke-width="2.6"/>
<ellipse cx="155.4" cy="156.9" rx="13.9" ry="12.5" fill="none" stroke="#30da30" stroke-width="2.5"/>
<path d="M103,124.5 L115,124.5 L103.5,130.5 Z" fill="#33d433"/>
<path d="M89.4,166.7 Q98,182 108.2,194.3" fill="none" stroke="#1a861a" stroke-width="0.9"/>
<path d="M95.7,165.4 Q103,180 110.7,191.8" fill="none" stroke="#1a861a" stroke-width="0.9"/>
<circle cx="102.6" cy="195.8" r="1.0" fill="#3ae03a"/>
<circle cx="64" cy="154" r="0.8" fill="#1a8a1a"/>
</g>
</g>
<g clip-path="url(#clipE191)">
<rect x="191.00" y="124.50" width="141.50" height="106.00" fill="#020602" />
<g filter="url(#glowC)">
<circle cx="233" cy="225" r="20" fill="#051705" stroke="#0f5a0f" stroke-width="7"/>
<path d="M234.90,140.70 C238.23,137.57 247.08,134.60 252.60,133.40 C258.12,132.20 263.12,132.80 268.00,133.50 C272.88,134.20 277.85,133.78 281.90,137.60 C285.95,141.42 289.70,148.75 292.30,156.40 C294.90,164.05 297.85,177.58 297.50,183.50 C297.15,189.42 294.20,188.58 290.20,191.90 C286.20,195.22 279.77,201.75 273.50,203.40 C267.23,205.05 258.52,204.07 252.60,201.80 C246.68,199.53 241.33,195.28 238.00,189.80 C234.67,184.32 233.50,175.17 232.60,168.90 C231.70,162.63 232.22,156.90 232.60,152.20 C232.98,147.50 231.57,143.83 234.90,140.70 Z" fill="#0e440e" stroke="#137613" stroke-width="11"/>
<circle cx="290" cy="217" r="19" fill="#0b360b" stroke="#127012" stroke-width="7"/>
<circle cx="191.5" cy="151.6" r="7.8" fill="#22b422"/>
<ellipse cx="220" cy="128" rx="8" ry="3.5" fill="#0a3a0a"/>
<circle cx="321" cy="219.4" r="8" fill="#082808"/>
</g>
<g filter="url(#glow2)">
<path d="M234.90,140.70 C238.23,137.57 247.08,134.60 252.60,133.40 C258.12,132.20 263.12,132.80 268.00,133.50 C272.88,134.20 277.85,133.78 281.90,137.60 C285.95,141.42 289.70,148.75 292.30,156.40 C294.90,164.05 297.85,177.58 297.50,183.50 C297.15,189.42 294.20,188.58 290.20,191.90 C286.20,195.22 279.77,201.75 273.50,203.40 C267.23,205.05 258.52,204.07 252.60,201.80 C246.68,199.53 241.33,195.28 238.00,189.80 C234.67,184.32 233.50,175.17 232.60,168.90 C231.70,162.63 232.22,156.90 232.60,152.20 C232.98,147.50 231.57,143.83 234.90,140.70 Z" fill="none" stroke="#1fa81f" stroke-width="2.6"/>
<path d="M282,138 Q292,160 297.1,180.5" fill="none" stroke="#2ad02a" stroke-width="2.4"/>
<path d="M232.2,160 Q233,184 245,196 Q252,202 262,203" fill="none" stroke="#27c227" stroke-width="3"/>
<path d="M274,208 Q282,196 292,196 Q305,200 309.7,216 L310,231" fill="none" stroke="#1a9a1a" stroke-width="2.6"/>
<circle cx="233" cy="152.9" r="2.6" fill="#3ae83a"/>
<circle cx="293" cy="190" r="2.4" fill="#2ed02e"/>
<circle cx="314.7" cy="152.2" r="0.9" fill="#2ad02a"/>
<circle cx="332.3" cy="159.1" r="2" fill="#1a8a1a"/>
</g>
</g>
<text x="173.80" y="222.00" font-size="8.4" text-anchor="middle" font-weight="bold" fill="#fff" textLength="21.80" lengthAdjust="spacingAndGlyphs">50µm</text>
<rect x="165.00" y="224.60" width="17.30" height="1.40" fill="#fff" />
<rect x="307.50" y="224.80" width="17.50" height="1.40" fill="#fff" />
<text x="0.00" y="0.00" font-size="8.7" text-anchor="middle" font-weight="bold" fill="#000" textLength="136.80" lengthAdjust="spacingAndGlyphs" transform="translate(371.0,104.6) rotate(-90)">mRNA Relative Transcription</text>
<line x1="391.10" y1="43.20" x2="391.10" y2="169.50" stroke="#000" stroke-width="1.3" />
<line x1="386.40" y1="168.90" x2="391.10" y2="168.90" stroke="#000" stroke-width="1.2" />
<text x="383.60" y="173.10" font-size="9" text-anchor="end" font-weight="bold" fill="#000" textLength="4.30" lengthAdjust="spacingAndGlyphs">0</text>
<line x1="386.40" y1="127.20" x2="391.10" y2="127.20" stroke="#000" stroke-width="1.2" />
<text x="383.60" y="131.40" font-size="9" text-anchor="end" font-weight="bold" fill="#000" textLength="4.30" lengthAdjust="spacingAndGlyphs">1</text>
<line x1="386.40" y1="85.50" x2="391.10" y2="85.50" stroke="#000" stroke-width="1.2" />
<text x="383.60" y="89.70" font-size="9" text-anchor="end" font-weight="bold" fill="#000" textLength="4.30" lengthAdjust="spacingAndGlyphs">2</text>
<line x1="386.40" y1="43.80" x2="391.10" y2="43.80" stroke="#000" stroke-width="1.2" />
<text x="383.60" y="48.00" font-size="9" text-anchor="end" font-weight="bold" fill="#000" textLength="4.30" lengthAdjust="spacingAndGlyphs">3</text>
<line x1="390.50" y1="168.90" x2="675.00" y2="168.90" stroke="#000" stroke-width="1.3" />
<rect x="397.50" y="126.37" width="11.40" height="42.53" fill="#000" />
<line x1="403.20" y1="126.37" x2="403.20" y2="125.53" stroke="#000" stroke-width="1.4" />
<line x1="400.60" y1="125.53" x2="405.80" y2="125.53" stroke="#000" stroke-width="1.4" />
<rect x="410.60" y="162.23" width="12.00" height="6.67" fill="#a1a0a5" />
<line x1="416.30" y1="162.23" x2="416.30" y2="161.39" stroke="#000" stroke-width="1.4" />
<line x1="413.70" y1="161.39" x2="418.90" y2="161.39" stroke="#000" stroke-width="1.4" />
<line x1="409.20" y1="168.90" x2="409.20" y2="172.40" stroke="#000" stroke-width="1.2" />
<text x="403.20" y="181.90" font-size="9.5" text-anchor="middle" font-weight="bold" fill="#000" textLength="12.00" lengthAdjust="spacingAndGlyphs">+/+</text>
<text x="417.20" y="181.90" font-size="9.5" text-anchor="middle" font-weight="bold" fill="#000" textLength="7.90" lengthAdjust="spacingAndGlyphs">f/f</text>
<line x1="395.70" y1="184.70" x2="425.20" y2="184.70" stroke="#000" stroke-width="1.2" />
<text x="411.25" y="195.00" font-size="10" text-anchor="middle" font-weight="bold" fill="#000" textLength="28.70" lengthAdjust="spacingAndGlyphs">GITRL</text>
<text x="410.00" y="43.50" font-size="7" text-anchor="middle" font-weight="bold" fill="#ad2b2e" textLength="29.60" lengthAdjust="spacingAndGlyphs"><tspan font-style="italic">P</tspan>&lt;0.0001</text>
<line x1="403.00" y1="46.90" x2="417.00" y2="46.90" stroke="#222" stroke-width="1.5" />
<rect x="432.30" y="126.37" width="11.40" height="42.53" fill="#000" />
<line x1="438.00" y1="126.37" x2="438.00" y2="122.20" stroke="#000" stroke-width="1.4" />
<line x1="435.40" y1="122.20" x2="440.60" y2="122.20" stroke="#000" stroke-width="1.4" />
<rect x="445.40" y="128.87" width="12.00" height="40.03" fill="#a1a0a5" />
<line x1="451.10" y1="128.87" x2="451.10" y2="126.78" stroke="#000" stroke-width="1.4" />
<line x1="448.50" y1="126.78" x2="453.70" y2="126.78" stroke="#000" stroke-width="1.4" />
<line x1="444.30" y1="168.90" x2="444.30" y2="172.40" stroke="#000" stroke-width="1.2" />
<text x="438.30" y="181.90" font-size="9.5" text-anchor="middle" font-weight="bold" fill="#000" textLength="12.00" lengthAdjust="spacingAndGlyphs">+/+</text>
<text x="452.30" y="181.90" font-size="9.5" text-anchor="middle" font-weight="bold" fill="#000" textLength="7.90" lengthAdjust="spacingAndGlyphs">f/f</text>
<line x1="430.80" y1="184.70" x2="460.30" y2="184.70" stroke="#000" stroke-width="1.2" />
<text x="445.75" y="195.00" font-size="10" text-anchor="middle" font-weight="bold" fill="#000" textLength="35.30" lengthAdjust="spacingAndGlyphs">EpCAM</text>
<text x="442.50" y="30.00" font-size="7" text-anchor="middle" font-weight="bold" fill="#000" textLength="29.60" lengthAdjust="spacingAndGlyphs"><tspan font-style="italic">P</tspan>=0.4677</text>
<line x1="435.50" y1="33.00" x2="449.50" y2="33.00" stroke="#222" stroke-width="1.5" />
<rect x="467.90" y="126.37" width="11.40" height="42.53" fill="#000" />
<rect x="481.00" y="139.29" width="12.00" height="29.61" fill="#a1a0a5" />
<line x1="486.70" y1="139.29" x2="486.70" y2="138.46" stroke="#000" stroke-width="1.4" />
<line x1="484.10" y1="138.46" x2="489.30" y2="138.46" stroke="#000" stroke-width="1.4" />
<line x1="479.80" y1="168.90" x2="479.80" y2="172.40" stroke="#000" stroke-width="1.2" />
<text x="473.80" y="181.90" font-size="9.5" text-anchor="middle" font-weight="bold" fill="#000" textLength="12.00" lengthAdjust="spacingAndGlyphs">+/+</text>
<text x="487.80" y="181.90" font-size="9.5" text-anchor="middle" font-weight="bold" fill="#000" textLength="7.90" lengthAdjust="spacingAndGlyphs">f/f</text>
<line x1="466.30" y1="184.70" x2="495.80" y2="184.70" stroke="#000" stroke-width="1.2" />
<text x="479.25" y="195.00" font-size="10" text-anchor="middle" font-weight="bold" fill="#000" textLength="26.70" lengthAdjust="spacingAndGlyphs">PCNA</text>
<text x="480.20" y="43.50" font-size="7" text-anchor="middle" font-weight="bold" fill="#ad2b2e" textLength="29.60" lengthAdjust="spacingAndGlyphs"><tspan font-style="italic">P</tspan>&lt;0.0001</text>
<line x1="473.20" y1="46.90" x2="487.20" y2="46.90" stroke="#222" stroke-width="1.5" />
<rect x="502.90" y="126.37" width="11.40" height="42.53" fill="#000" />
<line x1="508.60" y1="126.37" x2="508.60" y2="124.28" stroke="#000" stroke-width="1.4" />
<line x1="506.00" y1="124.28" x2="511.20" y2="124.28" stroke="#000" stroke-width="1.4" />
<rect x="516.00" y="149.72" width="12.00" height="19.18" fill="#a1a0a5" />
<line x1="521.70" y1="149.72" x2="521.70" y2="148.88" stroke="#000" stroke-width="1.4" />
<line x1="519.10" y1="148.88" x2="524.30" y2="148.88" stroke="#000" stroke-width="1.4" />
<line x1="515.20" y1="168.90" x2="515.20" y2="172.40" stroke="#000" stroke-width="1.2" />
<text x="509.20" y="181.90" font-size="9.5" text-anchor="middle" font-weight="bold" fill="#000" textLength="12.00" lengthAdjust="spacingAndGlyphs">+/+</text>
<text x="523.20" y="181.90" font-size="9.5" text-anchor="middle" font-weight="bold" fill="#000" textLength="7.90" lengthAdjust="spacingAndGlyphs">f/f</text>
<line x1="501.70" y1="184.70" x2="531.20" y2="184.70" stroke="#000" stroke-width="1.2" />
<text x="515.75" y="195.00" font-size="10" text-anchor="middle" font-weight="bold" fill="#000" textLength="39.30" lengthAdjust="spacingAndGlyphs">Cyclin D</text>
<text x="516.00" y="30.00" font-size="7" text-anchor="middle" font-weight="bold" fill="#ad2b2e" textLength="29.60" lengthAdjust="spacingAndGlyphs"><tspan font-style="italic">P</tspan>&lt;0.0001</text>
<line x1="509.00" y1="33.00" x2="523.00" y2="33.00" stroke="#222" stroke-width="1.5" />
<rect x="538.50" y="126.37" width="11.40" height="42.53" fill="#000" />
<line x1="544.20" y1="126.37" x2="544.20" y2="125.95" stroke="#000" stroke-width="1.4" />
<line x1="541.60" y1="125.95" x2="546.80" y2="125.95" stroke="#000" stroke-width="1.4" />
<rect x="551.60" y="147.22" width="12.00" height="21.68" fill="#a1a0a5" />
<line x1="557.30" y1="147.22" x2="557.30" y2="146.80" stroke="#000" stroke-width="1.4" />
<line x1="554.70" y1="146.80" x2="559.90" y2="146.80" stroke="#000" stroke-width="1.4" />
<line x1="550.70" y1="168.90" x2="550.70" y2="172.40" stroke="#000" stroke-width="1.2" />
<text x="544.70" y="181.90" font-size="9.5" text-anchor="middle" font-weight="bold" fill="#000" textLength="12.00" lengthAdjust="spacingAndGlyphs">+/+</text>
<text x="558.70" y="181.90" font-size="9.5" text-anchor="middle" font-weight="bold" fill="#000" textLength="7.90" lengthAdjust="spacingAndGlyphs">f/f</text>
<line x1="537.20" y1="184.70" x2="566.70" y2="184.70" stroke="#000" stroke-width="1.2" />
<text x="550.75" y="195.00" font-size="10" text-anchor="middle" font-weight="bold" fill="#000" textLength="26.70" lengthAdjust="spacingAndGlyphs">CK19</text>
<text x="550.70" y="43.50" font-size="7" text-anchor="middle" font-weight="bold" fill="#ad2b2e" textLength="29.60" lengthAdjust="spacingAndGlyphs"><tspan font-style="italic">P</tspan>=0.0003</text>
<line x1="543.70" y1="46.90" x2="557.70" y2="46.90" stroke="#222" stroke-width="1.5" />
<rect x="573.40" y="126.37" width="11.40" height="42.53" fill="#000" />
<line x1="579.10" y1="126.37" x2="579.10" y2="122.20" stroke="#000" stroke-width="1.4" />
<line x1="576.50" y1="122.20" x2="581.70" y2="122.20" stroke="#000" stroke-width="1.4" />
<rect x="586.50" y="80.08" width="12.00" height="88.82" fill="#a1a0a5" />
<line x1="592.20" y1="80.08" x2="592.20" y2="79.25" stroke="#000" stroke-width="1.4" />
<line x1="589.60" y1="79.25" x2="594.80" y2="79.25" stroke="#000" stroke-width="1.4" />
<line x1="585.70" y1="168.90" x2="585.70" y2="172.40" stroke="#000" stroke-width="1.2" />
<text x="579.70" y="181.90" font-size="9.5" text-anchor="middle" font-weight="bold" fill="#000" textLength="12.00" lengthAdjust="spacingAndGlyphs">+/+</text>
<text x="593.70" y="181.90" font-size="9.5" text-anchor="middle" font-weight="bold" fill="#000" textLength="7.90" lengthAdjust="spacingAndGlyphs">f/f</text>
<line x1="572.20" y1="184.70" x2="601.70" y2="184.70" stroke="#000" stroke-width="1.2" />
<text x="586.30" y="195.00" font-size="10" text-anchor="middle" font-weight="bold" fill="#000" textLength="21.20" lengthAdjust="spacingAndGlyphs">AFP</text>
<text x="585.50" y="30.00" font-size="7" text-anchor="middle" font-weight="bold" fill="#ad2b2e" textLength="29.60" lengthAdjust="spacingAndGlyphs"><tspan font-style="italic">P</tspan>&lt;0.0001</text>
<line x1="578.50" y1="33.00" x2="592.50" y2="33.00" stroke="#222" stroke-width="1.5" />
<rect x="608.80" y="126.37" width="11.40" height="42.53" fill="#000" />
<rect x="621.90" y="55.89" width="12.00" height="113.01" fill="#a1a0a5" />
<line x1="627.60" y1="55.89" x2="627.60" y2="53.39" stroke="#000" stroke-width="1.4" />
<line x1="625.00" y1="53.39" x2="630.20" y2="53.39" stroke="#000" stroke-width="1.4" />
<line x1="621.00" y1="168.90" x2="621.00" y2="172.40" stroke="#000" stroke-width="1.2" />
<text x="615.00" y="181.90" font-size="9.5" text-anchor="middle" font-weight="bold" fill="#000" textLength="12.00" lengthAdjust="spacingAndGlyphs">+/+</text>
<text x="629.00" y="181.90" font-size="9.5" text-anchor="middle" font-weight="bold" fill="#000" textLength="7.90" lengthAdjust="spacingAndGlyphs">f/f</text>
<line x1="607.50" y1="184.70" x2="637.00" y2="184.70" stroke="#000" stroke-width="1.2" />
<text x="621.05" y="195.00" font-size="10" text-anchor="middle" font-weight="bold" fill="#000" textLength="20.10" lengthAdjust="spacingAndGlyphs">ALB</text>
<text x="620.00" y="43.50" font-size="7" text-anchor="middle" font-weight="bold" fill="#ad2b2e" textLength="29.60" lengthAdjust="spacingAndGlyphs"><tspan font-style="italic">P</tspan>=0.0006</text>
<line x1="613.00" y1="46.90" x2="627.00" y2="46.90" stroke="#222" stroke-width="1.5" />
<rect x="644.20" y="126.37" width="11.40" height="42.53" fill="#000" />
<rect x="657.30" y="110.10" width="12.00" height="58.80" fill="#a1a0a5" />
<line x1="663.00" y1="110.10" x2="663.00" y2="109.69" stroke="#000" stroke-width="1.4" />
<line x1="660.40" y1="109.69" x2="665.60" y2="109.69" stroke="#000" stroke-width="1.4" />
<line x1="656.10" y1="168.90" x2="656.10" y2="172.40" stroke="#000" stroke-width="1.2" />
<text x="650.10" y="181.90" font-size="9.5" text-anchor="middle" font-weight="bold" fill="#000" textLength="12.00" lengthAdjust="spacingAndGlyphs">+/+</text>
<text x="664.10" y="181.90" font-size="9.5" text-anchor="middle" font-weight="bold" fill="#000" textLength="7.90" lengthAdjust="spacingAndGlyphs">f/f</text>
<line x1="642.60" y1="184.70" x2="672.10" y2="184.70" stroke="#000" stroke-width="1.2" />
<text x="658.80" y="195.00" font-size="10" text-anchor="middle" font-weight="bold" fill="#000" textLength="35.20" lengthAdjust="spacingAndGlyphs">HNF4α</text>
<text x="656.50" y="30.00" font-size="7" text-anchor="middle" font-weight="bold" fill="#ad2b2e" textLength="29.60" lengthAdjust="spacingAndGlyphs"><tspan font-style="italic">P</tspan>&lt;0.0001</text>
<line x1="649.50" y1="33.00" x2="663.50" y2="33.00" stroke="#222" stroke-width="1.5" />
<text x="353.10" y="182.30" font-size="10" text-anchor="start" font-weight="bold" fill="#000" textLength="34.20" lengthAdjust="spacingAndGlyphs">Tnfsf18</text>
<text x="6.00" y="246.00" font-size="17" text-anchor="start" font-weight="bold" fill="#000">C</text>
<text x="0.00" y="0.00" font-size="8.7" text-anchor="middle" font-weight="bold" fill="#000" textLength="137.50" lengthAdjust="spacingAndGlyphs" transform="translate(30.0,314.3) rotate(-90)">mRNA Relative Transcription</text>
<line x1="55.20" y1="252.60" x2="55.20" y2="380.60" stroke="#000" stroke-width="1.3" />
<line x1="50.80" y1="380.00" x2="55.20" y2="380.00" stroke="#000" stroke-width="1.2" />
<text x="48.50" y="384.20" font-size="8.8" text-anchor="end" font-weight="bold" fill="#000" textLength="11.50" lengthAdjust="spacingAndGlyphs">0.0</text>
<line x1="50.80" y1="337.75" x2="55.20" y2="337.75" stroke="#000" stroke-width="1.2" />
<text x="48.50" y="341.95" font-size="8.8" text-anchor="end" font-weight="bold" fill="#000" textLength="11.50" lengthAdjust="spacingAndGlyphs">0.5</text>
<line x1="50.80" y1="295.50" x2="55.20" y2="295.50" stroke="#000" stroke-width="1.2" />
<text x="48.50" y="299.70" font-size="8.8" text-anchor="end" font-weight="bold" fill="#000" textLength="11.50" lengthAdjust="spacingAndGlyphs">1.0</text>
<line x1="50.80" y1="253.25" x2="55.20" y2="253.25" stroke="#000" stroke-width="1.2" />
<text x="48.50" y="257.45" font-size="8.8" text-anchor="end" font-weight="bold" fill="#000" textLength="11.50" lengthAdjust="spacingAndGlyphs">1.5</text>
<line x1="54.60" y1="380.00" x2="339.50" y2="380.00" stroke="#000" stroke-width="1.3" />
<rect x="69.00" y="295.50" width="23.00" height="84.50" fill="#000" />
<line x1="80.50" y1="295.50" x2="80.50" y2="292.12" stroke="#000" stroke-width="1.6" />
<line x1="77.30" y1="292.12" x2="83.70" y2="292.12" stroke="#000" stroke-width="1.6" />
<rect x="99.00" y="274.12" width="23.00" height="105.88" fill="#a1a0a5" />
<line x1="110.50" y1="274.12" x2="110.50" y2="273.02" stroke="#000" stroke-width="1.6" />
<line x1="107.30" y1="273.02" x2="113.70" y2="273.02" stroke="#000" stroke-width="1.6" />
<rect x="129.80" y="294.32" width="23.00" height="85.68" fill="#808080" />
<line x1="141.30" y1="294.32" x2="141.30" y2="281.73" stroke="#000" stroke-width="1.6" />
<line x1="138.10" y1="281.73" x2="144.50" y2="281.73" stroke="#000" stroke-width="1.6" />
<rect x="160.00" y="292.20" width="23.00" height="87.80" fill="#d3d3d3" />
<line x1="171.50" y1="292.20" x2="171.50" y2="287.05" stroke="#000" stroke-width="1.6" />
<line x1="168.30" y1="287.05" x2="174.70" y2="287.05" stroke="#000" stroke-width="1.6" />
<rect x="211.00" y="295.50" width="23.00" height="84.50" fill="#000" />
<line x1="222.50" y1="295.50" x2="222.50" y2="292.12" stroke="#000" stroke-width="1.6" />
<line x1="219.30" y1="292.12" x2="225.70" y2="292.12" stroke="#000" stroke-width="1.6" />
<rect x="241.30" y="324.31" width="23.00" height="55.69" fill="#a1a0a5" />
<line x1="252.80" y1="324.31" x2="252.80" y2="323.38" stroke="#000" stroke-width="1.6" />
<line x1="249.60" y1="323.38" x2="256.00" y2="323.38" stroke="#000" stroke-width="1.6" />
<rect x="271.60" y="267.11" width="23.00" height="112.89" fill="#808080" />
<line x1="283.10" y1="267.11" x2="283.10" y2="265.93" stroke="#000" stroke-width="1.6" />
<line x1="279.90" y1="265.93" x2="286.30" y2="265.93" stroke="#000" stroke-width="1.6" />
<rect x="302.30" y="274.71" width="23.00" height="105.29" fill="#d3d3d3" />
<line x1="313.80" y1="274.71" x2="313.80" y2="272.01" stroke="#000" stroke-width="1.6" />
<line x1="310.60" y1="272.01" x2="317.00" y2="272.01" stroke="#000" stroke-width="1.6" />
<line x1="125.30" y1="380.00" x2="125.30" y2="383.50" stroke="#000" stroke-width="1.2" />
<line x1="267.20" y1="380.00" x2="267.20" y2="383.50" stroke="#000" stroke-width="1.2" />
<line x1="81.20" y1="260.00" x2="111.60" y2="260.00" stroke="#111" stroke-width="1.4" />
<text x="96.40" y="257.80" font-size="6.6" text-anchor="middle" font-weight="bold" fill="#ad2b2e" textLength="30.20" lengthAdjust="spacingAndGlyphs"><tspan font-style="italic">P</tspan>=0.0001</text>
<line x1="81.20" y1="250.50" x2="140.80" y2="250.50" stroke="#111" stroke-width="1.4" />
<text x="111.00" y="248.50" font-size="6.6" text-anchor="middle" font-weight="bold" fill="#000" textLength="30.20" lengthAdjust="spacingAndGlyphs"><tspan font-style="italic">P</tspan>=0.9098</text>
<line x1="112.30" y1="241.10" x2="171.90" y2="241.10" stroke="#111" stroke-width="1.4" />
<text x="142.10" y="238.90" font-size="6.6" text-anchor="middle" font-weight="bold" fill="#ad2b2e" textLength="30.20" lengthAdjust="spacingAndGlyphs"><tspan font-style="italic">P</tspan>=0.0269</text>
<line x1="141.80" y1="259.60" x2="171.90" y2="259.60" stroke="#111" stroke-width="1.4" />
<text x="156.85" y="257.80" font-size="6.6" text-anchor="middle" font-weight="bold" fill="#000" textLength="30.20" lengthAdjust="spacingAndGlyphs"><tspan font-style="italic">P</tspan>=0.7984</text>
<line x1="222.20" y1="260.00" x2="252.60" y2="260.00" stroke="#111" stroke-width="1.4" />
<text x="237.40" y="257.80" font-size="6.6" text-anchor="middle" font-weight="bold" fill="#ad2b2e" textLength="30.20" lengthAdjust="spacingAndGlyphs"><tspan font-style="italic">P</tspan>=0.0030</text>
<line x1="222.20" y1="250.50" x2="281.70" y2="250.50" stroke="#111" stroke-width="1.4" />
<text x="251.95" y="248.50" font-size="6.6" text-anchor="middle" font-weight="bold" fill="#ad2b2e" textLength="30.20" lengthAdjust="spacingAndGlyphs"><tspan font-style="italic">P</tspan>&lt;0.0001</text>
<line x1="253.30" y1="241.10" x2="312.90" y2="241.10" stroke="#111" stroke-width="1.4" />
<text x="283.10" y="238.90" font-size="6.6" text-anchor="middle" font-weight="bold" fill="#ad2b2e" textLength="30.20" lengthAdjust="spacingAndGlyphs"><tspan font-style="italic">P</tspan>=0.0007</text>
<line x1="282.70" y1="259.60" x2="312.90" y2="259.60" stroke="#111" stroke-width="1.4" />
<text x="297.80" y="257.80" font-size="6.6" text-anchor="middle" font-weight="bold" fill="#ad2b2e" textLength="30.20" lengthAdjust="spacingAndGlyphs"><tspan font-style="italic">P</tspan>=0.0042</text>
<text x="35.80" y="395.00" font-size="10" text-anchor="end" font-weight="bold" fill="#000" textLength="16.10" lengthAdjust="spacingAndGlyphs">IgG</text>
<text x="47.00" y="406.60" font-size="10" text-anchor="end" font-weight="bold" fill="#000" textLength="38.50" lengthAdjust="spacingAndGlyphs">GITR-Fc</text>
<text x="45.30" y="425.00" font-size="10" text-anchor="end" font-weight="bold" fill="#000" textLength="34.80" lengthAdjust="spacingAndGlyphs">Tnfsf18</text>
<text x="81.20" y="395.00" font-size="9.5" text-anchor="middle" font-weight="bold" fill="#000">-</text>
<text x="81.20" y="406.60" font-size="9.5" text-anchor="middle" font-weight="bold" fill="#000">-</text>
<text x="111.70" y="395.00" font-size="9.5" text-anchor="middle" font-weight="bold" fill="#000">+</text>
<text x="111.70" y="406.60" font-size="9.5" text-anchor="middle" font-weight="bold" fill="#000">+</text>
<text x="141.00" y="395.00" font-size="9.5" text-anchor="middle" font-weight="bold" fill="#000">-</text>
<text x="141.00" y="406.60" font-size="9.5" text-anchor="middle" font-weight="bold" fill="#000">-</text>
<text x="172.70" y="395.00" font-size="9.5" text-anchor="middle" font-weight="bold" fill="#000">+</text>
<text x="172.70" y="406.60" font-size="9.5" text-anchor="middle" font-weight="bold" fill="#000">+</text>
<line x1="72.10" y1="411.10" x2="123.40" y2="411.10" stroke="#000" stroke-width="1.3" />
<line x1="129.20" y1="411.10" x2="180.70" y2="411.10" stroke="#000" stroke-width="1.3" />
<text x="98.00" y="423.40" font-size="9" text-anchor="middle" font-weight="bold" fill="#000" textLength="12.30" lengthAdjust="spacingAndGlyphs">+/+</text>
<text x="155.10" y="423.40" font-size="9" text-anchor="middle" font-weight="bold" fill="#000" textLength="7.90" lengthAdjust="spacingAndGlyphs">f/f</text>
<line x1="72.10" y1="427.10" x2="180.70" y2="427.10" stroke="#000" stroke-width="1.3" />
<text x="221.20" y="395.00" font-size="9.5" text-anchor="middle" font-weight="bold" fill="#000">-</text>
<text x="221.20" y="406.60" font-size="9.5" text-anchor="middle" font-weight="bold" fill="#000">-</text>
<text x="251.40" y="395.00" font-size="9.5" text-anchor="middle" font-weight="bold" fill="#000">+</text>
<text x="251.40" y="406.60" font-size="9.5" text-anchor="middle" font-weight="bold" fill="#000">+</text>
<text x="283.00" y="395.00" font-size="9.5" text-anchor="middle" font-weight="bold" fill="#000">-</text>
<text x="283.00" y="406.60" font-size="9.5" text-anchor="middle" font-weight="bold" fill="#000">-</text>
<text x="312.90" y="395.00" font-size="9.5" text-anchor="middle" font-weight="bold" fill="#000">+</text>
<text x="312.90" y="406.60" font-size="9.5" text-anchor="middle" font-weight="bold" fill="#000">+</text>
<line x1="213.30" y1="411.10" x2="264.30" y2="411.10" stroke="#000" stroke-width="1.3" />
<line x1="271.10" y1="411.10" x2="322.40" y2="411.10" stroke="#000" stroke-width="1.3" />
<text x="236.20" y="423.40" font-size="9" text-anchor="middle" font-weight="bold" fill="#000" textLength="12.30" lengthAdjust="spacingAndGlyphs">+/+</text>
<text x="293.30" y="423.40" font-size="9" text-anchor="middle" font-weight="bold" fill="#000" textLength="7.90" lengthAdjust="spacingAndGlyphs">f/f</text>
<line x1="213.30" y1="427.10" x2="321.00" y2="427.10" stroke="#000" stroke-width="1.3" />
<text x="126.60" y="442.20" font-size="10" text-anchor="middle" font-weight="bold" fill="#000" textLength="34.80" lengthAdjust="spacingAndGlyphs">EpCAM</text>
<text x="266.40" y="442.20" font-size="10" text-anchor="middle" font-weight="bold" fill="#000" textLength="19.50" lengthAdjust="spacingAndGlyphs">ALB</text>
<text x="343.40" y="662.30" font-size="17" text-anchor="start" font-weight="bold" fill="#000">G</text>
<text x="0.00" y="0.00" font-size="8.7" text-anchor="middle" font-weight="bold" fill="#000" textLength="137.50" lengthAdjust="spacingAndGlyphs" transform="translate(374.2,723.5) rotate(-90)">mRNA Relative Transcription</text>
<line x1="399.80" y1="673.50" x2="399.80" y2="801.20" stroke="#000" stroke-width="1.3" />
<line x1="395.40" y1="800.60" x2="399.80" y2="800.60" stroke="#000" stroke-width="1.2" />
<text x="393.20" y="804.80" font-size="8.8" text-anchor="end" font-weight="bold" fill="#000" textLength="11.50" lengthAdjust="spacingAndGlyphs">0.0</text>
<line x1="395.40" y1="758.40" x2="399.80" y2="758.40" stroke="#000" stroke-width="1.2" />
<text x="393.20" y="762.60" font-size="8.8" text-anchor="end" font-weight="bold" fill="#000" textLength="11.50" lengthAdjust="spacingAndGlyphs">0.5</text>
<line x1="395.40" y1="716.20" x2="399.80" y2="716.20" stroke="#000" stroke-width="1.2" />
<text x="393.20" y="720.40" font-size="8.8" text-anchor="end" font-weight="bold" fill="#000" textLength="11.50" lengthAdjust="spacingAndGlyphs">1.0</text>
<line x1="395.40" y1="674.00" x2="399.80" y2="674.00" stroke="#000" stroke-width="1.2" />
<text x="393.20" y="678.20" font-size="8.8" text-anchor="end" font-weight="bold" fill="#000" textLength="11.50" lengthAdjust="spacingAndGlyphs">1.5</text>
<line x1="399.20" y1="800.60" x2="684.00" y2="800.60" stroke="#000" stroke-width="1.3" />
<rect x="409.30" y="716.20" width="15.60" height="84.40" fill="#000" />
<line x1="417.10" y1="716.20" x2="417.10" y2="711.56" stroke="#000" stroke-width="1.6" />
<line x1="413.90" y1="711.56" x2="420.30" y2="711.56" stroke="#000" stroke-width="1.6" />
<rect x="429.20" y="735.61" width="15.60" height="64.99" fill="#a1a0a5" />
<line x1="437.00" y1="735.61" x2="437.00" y2="734.35" stroke="#000" stroke-width="1.6" />
<line x1="433.80" y1="734.35" x2="440.20" y2="734.35" stroke="#000" stroke-width="1.6" />
<rect x="449.90" y="705.23" width="15.60" height="95.37" fill="#808080" />
<line x1="457.70" y1="705.23" x2="457.70" y2="703.96" stroke="#000" stroke-width="1.6" />
<line x1="454.50" y1="703.96" x2="460.90" y2="703.96" stroke="#000" stroke-width="1.6" />
<rect x="469.40" y="701.85" width="15.60" height="98.75" fill="#d3d3d3" />
<line x1="477.20" y1="701.85" x2="477.20" y2="697.63" stroke="#000" stroke-width="1.6" />
<line x1="474.00" y1="697.63" x2="480.40" y2="697.63" stroke="#000" stroke-width="1.6" />
<rect x="503.60" y="715.36" width="15.60" height="85.24" fill="#000" />
<line x1="511.40" y1="715.36" x2="511.40" y2="709.03" stroke="#000" stroke-width="1.6" />
<line x1="508.20" y1="709.03" x2="514.60" y2="709.03" stroke="#000" stroke-width="1.6" />
<rect x="523.50" y="743.21" width="15.60" height="57.39" fill="#a1a0a5" />
<line x1="531.30" y1="743.21" x2="531.30" y2="734.77" stroke="#000" stroke-width="1.6" />
<line x1="528.10" y1="734.77" x2="534.50" y2="734.77" stroke="#000" stroke-width="1.6" />
<rect x="544.00" y="712.82" width="15.60" height="87.78" fill="#808080" />
<line x1="551.80" y1="712.82" x2="551.80" y2="709.03" stroke="#000" stroke-width="1.6" />
<line x1="548.60" y1="709.03" x2="555.00" y2="709.03" stroke="#000" stroke-width="1.6" />
<rect x="564.10" y="702.27" width="15.60" height="98.33" fill="#d3d3d3" />
<line x1="571.90" y1="702.27" x2="571.90" y2="694.68" stroke="#000" stroke-width="1.6" />
<line x1="568.70" y1="694.68" x2="575.10" y2="694.68" stroke="#000" stroke-width="1.6" />
<rect x="598.10" y="715.36" width="15.60" height="85.24" fill="#000" />
<line x1="605.90" y1="715.36" x2="605.90" y2="708.18" stroke="#000" stroke-width="1.6" />
<line x1="602.70" y1="708.18" x2="609.10" y2="708.18" stroke="#000" stroke-width="1.6" />
<rect x="618.20" y="714.51" width="15.60" height="86.09" fill="#a1a0a5" />
<line x1="626.00" y1="714.51" x2="626.00" y2="710.29" stroke="#000" stroke-width="1.6" />
<line x1="622.80" y1="710.29" x2="629.20" y2="710.29" stroke="#000" stroke-width="1.6" />
<rect x="638.50" y="724.64" width="15.60" height="75.96" fill="#808080" />
<line x1="646.30" y1="724.64" x2="646.30" y2="722.95" stroke="#000" stroke-width="1.6" />
<line x1="643.10" y1="722.95" x2="649.50" y2="722.95" stroke="#000" stroke-width="1.6" />
<rect x="658.40" y="714.51" width="15.60" height="86.09" fill="#d3d3d3" />
<line x1="666.20" y1="714.51" x2="666.20" y2="713.67" stroke="#000" stroke-width="1.6" />
<line x1="663.00" y1="713.67" x2="669.40" y2="713.67" stroke="#000" stroke-width="1.6" />
<line x1="417.20" y1="689.90" x2="437.20" y2="689.90" stroke="#111" stroke-width="1.4" />
<text x="427.20" y="687.60" font-size="6.6" text-anchor="middle" font-weight="bold" fill="#ad2b2e" textLength="30.20" lengthAdjust="spacingAndGlyphs"><tspan font-style="italic">P</tspan>=0.0021</text>
<line x1="417.20" y1="679.40" x2="457.10" y2="679.40" stroke="#111" stroke-width="1.4" />
<text x="437.15" y="677.10" font-size="6.6" text-anchor="middle" font-weight="bold" fill="#ad2b2e" textLength="30.20" lengthAdjust="spacingAndGlyphs"><tspan font-style="italic">P</tspan>=0.0213</text>
<line x1="437.70" y1="669.00" x2="477.40" y2="669.00" stroke="#111" stroke-width="1.4" />
<text x="457.55" y="666.70" font-size="6.6" text-anchor="middle" font-weight="bold" fill="#ad2b2e" textLength="30.20" lengthAdjust="spacingAndGlyphs"><tspan font-style="italic">P</tspan>=0.0004</text>
<line x1="457.50" y1="689.90" x2="477.40" y2="689.90" stroke="#111" stroke-width="1.4" />
<text x="467.45" y="687.60" font-size="6.6" text-anchor="middle" font-weight="bold" fill="#000" textLength="30.20" lengthAdjust="spacingAndGlyphs"><tspan font-style="italic">P</tspan>=0.3293</text>
<line x1="510.60" y1="689.90" x2="530.50" y2="689.90" stroke="#111" stroke-width="1.4" />
<text x="520.55" y="687.60" font-size="6.6" text-anchor="middle" font-weight="bold" fill="#ad2b2e" textLength="30.20" lengthAdjust="spacingAndGlyphs"><tspan font-style="italic">P</tspan>=0.0124</text>
<line x1="510.60" y1="679.40" x2="550.60" y2="679.40" stroke="#111" stroke-width="1.4" />
<text x="530.60" y="677.10" font-size="6.6" text-anchor="middle" font-weight="bold" fill="#000" textLength="30.20" lengthAdjust="spacingAndGlyphs"><tspan font-style="italic">P</tspan>=0.6475</text>
<line x1="531.10" y1="669.00" x2="570.60" y2="669.00" stroke="#111" stroke-width="1.4" />
<text x="550.85" y="666.70" font-size="6.6" text-anchor="middle" font-weight="bold" fill="#ad2b2e" textLength="30.20" lengthAdjust="spacingAndGlyphs"><tspan font-style="italic">P</tspan>=0.0039</text>
<line x1="551.00" y1="689.90" x2="570.60" y2="689.90" stroke="#111" stroke-width="1.4" />
<text x="560.80" y="687.60" font-size="6.6" text-anchor="middle" font-weight="bold" fill="#000" textLength="30.20" lengthAdjust="spacingAndGlyphs"><tspan font-style="italic">P</tspan>=0.1194</text>
<line x1="605.90" y1="689.90" x2="625.80" y2="689.90" stroke="#111" stroke-width="1.4" />
<text x="615.85" y="687.60" font-size="6.6" text-anchor="middle" font-weight="bold" fill="#000" textLength="30.20" lengthAdjust="spacingAndGlyphs"><tspan font-style="italic">P</tspan>=0.8863</text>
<line x1="605.90" y1="679.40" x2="645.70" y2="679.40" stroke="#111" stroke-width="1.4" />
<text x="625.80" y="677.10" font-size="6.6" text-anchor="middle" font-weight="bold" fill="#000" textLength="30.20" lengthAdjust="spacingAndGlyphs"><tspan font-style="italic">P</tspan>=0.0975</text>
<line x1="626.20" y1="669.00" x2="666.00" y2="669.00" stroke="#111" stroke-width="1.4" />
<text x="646.10" y="666.70" font-size="6.6" text-anchor="middle" font-weight="bold" fill="#000" textLength="30.20" lengthAdjust="spacingAndGlyphs"><tspan font-style="italic">P</tspan>=0.8823</text>
<line x1="646.10" y1="689.90" x2="666.00" y2="689.90" stroke="#111" stroke-width="1.4" />
<text x="656.05" y="687.60" font-size="6.6" text-anchor="middle" font-weight="bold" fill="#ad2b2e" textLength="30.20" lengthAdjust="spacingAndGlyphs"><tspan font-style="italic">P</tspan>=0.0020</text>
<text x="391.40" y="814.40" font-size="10" text-anchor="end" font-weight="bold" fill="#000" textLength="39.00" lengthAdjust="spacingAndGlyphs">GITR-Fc</text>
<text x="389.60" y="832.50" font-size="10" text-anchor="end" font-weight="bold" fill="#000" textLength="35.20" lengthAdjust="spacingAndGlyphs">Tnfsf18</text>
<line x1="447.35" y1="800.60" x2="447.35" y2="803.80" stroke="#000" stroke-width="1.3" />
<text x="417.10" y="814.40" font-size="9.5" text-anchor="middle" font-weight="bold" fill="#000">-</text>
<text x="437.00" y="814.40" font-size="9.5" text-anchor="middle" font-weight="bold" fill="#000">+</text>
<text x="457.70" y="814.40" font-size="9.5" text-anchor="middle" font-weight="bold" fill="#000">-</text>
<text x="478.50" y="814.40" font-size="9.5" text-anchor="middle" font-weight="bold" fill="#000">+</text>
<line x1="409.10" y1="817.80" x2="446.30" y2="817.80" stroke="#000" stroke-width="1.3" />
<line x1="449.20" y1="817.80" x2="486.00" y2="817.80" stroke="#000" stroke-width="1.3" />
<text x="426.55" y="831.90" font-size="9" text-anchor="middle" font-weight="bold" fill="#000" textLength="12.00" lengthAdjust="spacingAndGlyphs">+/+</text>
<text x="467.75" y="831.90" font-size="9" text-anchor="middle" font-weight="bold" fill="#000" textLength="7.90" lengthAdjust="spacingAndGlyphs">f/f</text>
<line x1="408.10" y1="833.90" x2="486.00" y2="833.90" stroke="#000" stroke-width="1.3" />
<text x="448.35" y="850.00" font-size="10" text-anchor="middle" font-weight="bold" fill="#000">Axin1</text>
<line x1="541.55" y1="800.60" x2="541.55" y2="803.80" stroke="#000" stroke-width="1.3" />
<text x="511.40" y="814.40" font-size="9.5" text-anchor="middle" font-weight="bold" fill="#000">-</text>
<text x="531.30" y="814.40" font-size="9.5" text-anchor="middle" font-weight="bold" fill="#000">+</text>
<text x="551.80" y="814.40" font-size="9.5" text-anchor="middle" font-weight="bold" fill="#000">-</text>
<text x="573.20" y="814.40" font-size="9.5" text-anchor="middle" font-weight="bold" fill="#000">+</text>
<line x1="503.40" y1="817.80" x2="540.60" y2="817.80" stroke="#000" stroke-width="1.3" />
<line x1="543.30" y1="817.80" x2="580.70" y2="817.80" stroke="#000" stroke-width="1.3" />
<text x="520.85" y="831.90" font-size="9" text-anchor="middle" font-weight="bold" fill="#000" textLength="12.00" lengthAdjust="spacingAndGlyphs">+/+</text>
<text x="562.15" y="831.90" font-size="9" text-anchor="middle" font-weight="bold" fill="#000" textLength="7.90" lengthAdjust="spacingAndGlyphs">f/f</text>
<line x1="502.40" y1="833.90" x2="580.70" y2="833.90" stroke="#000" stroke-width="1.3" />
<text x="542.55" y="850.00" font-size="10" text-anchor="middle" font-weight="bold" fill="#000">Fzd1</text>
<line x1="636.15" y1="800.60" x2="636.15" y2="803.80" stroke="#000" stroke-width="1.3" />
<text x="605.90" y="814.40" font-size="9.5" text-anchor="middle" font-weight="bold" fill="#000">-</text>
<text x="626.00" y="814.40" font-size="9.5" text-anchor="middle" font-weight="bold" fill="#000">+</text>
<text x="646.30" y="814.40" font-size="9.5" text-anchor="middle" font-weight="bold" fill="#000">-</text>
<text x="667.50" y="814.40" font-size="9.5" text-anchor="middle" font-weight="bold" fill="#000">+</text>
<line x1="597.90" y1="817.80" x2="635.30" y2="817.80" stroke="#000" stroke-width="1.3" />
<line x1="637.80" y1="817.80" x2="675.00" y2="817.80" stroke="#000" stroke-width="1.3" />
<text x="615.45" y="831.90" font-size="9" text-anchor="middle" font-weight="bold" fill="#000" textLength="12.00" lengthAdjust="spacingAndGlyphs">+/+</text>
<text x="656.55" y="831.90" font-size="9" text-anchor="middle" font-weight="bold" fill="#000" textLength="7.90" lengthAdjust="spacingAndGlyphs">f/f</text>
<line x1="596.90" y1="833.90" x2="675.00" y2="833.90" stroke="#000" stroke-width="1.3" />
<text x="637.15" y="850.00" font-size="10" text-anchor="middle" font-weight="bold" fill="#000">Skp2</text>
<text x="358.40" y="236.90" font-size="17" text-anchor="start" font-weight="bold" fill="#000">D</text>
<rect x="442.80" y="242.70" width="166.00" height="162.30" fill="#fff" stroke="#cdcdcd" stroke-width="0.9"/>
<line x1="451.24" y1="243.20" x2="451.24" y2="404.50" stroke="#fafafa" stroke-width="0.6" />
<line x1="479.36" y1="243.20" x2="479.36" y2="404.50" stroke="#fafafa" stroke-width="0.6" />
<line x1="507.48" y1="243.20" x2="507.48" y2="404.50" stroke="#fafafa" stroke-width="0.6" />
<line x1="535.60" y1="243.20" x2="535.60" y2="404.50" stroke="#fafafa" stroke-width="0.6" />
<line x1="563.72" y1="243.20" x2="563.72" y2="404.50" stroke="#fafafa" stroke-width="0.6" />
<line x1="591.84" y1="243.20" x2="591.84" y2="404.50" stroke="#fafafa" stroke-width="0.6" />
<line x1="443.30" y1="257.20" x2="608.30" y2="257.20" stroke="#fafafa" stroke-width="0.6" />
<line x1="443.30" y1="293.40" x2="608.30" y2="293.40" stroke="#fafafa" stroke-width="0.6" />
<line x1="443.30" y1="329.60" x2="608.30" y2="329.60" stroke="#fafafa" stroke-width="0.6" />
<line x1="443.30" y1="365.80" x2="608.30" y2="365.80" stroke="#fafafa" stroke-width="0.6" />
<line x1="443.30" y1="402.00" x2="608.30" y2="402.00" stroke="#fafafa" stroke-width="0.6" />
<line x1="440.80" y1="257.20" x2="442.80" y2="257.20" stroke="#333" stroke-width="0.8" />
<text x="439.80" y="259.80" font-size="7.3" text-anchor="end" font-weight="bold" fill="#000">2000</text>
<line x1="440.80" y1="293.40" x2="442.80" y2="293.40" stroke="#333" stroke-width="0.8" />
<text x="439.80" y="296.00" font-size="7.3" text-anchor="end" font-weight="bold" fill="#000">1000</text>
<line x1="440.80" y1="329.60" x2="442.80" y2="329.60" stroke="#333" stroke-width="0.8" />
<text x="439.80" y="332.20" font-size="7.3" text-anchor="end" font-weight="bold" fill="#000">0</text>
<line x1="440.80" y1="365.80" x2="442.80" y2="365.80" stroke="#333" stroke-width="0.8" />
<text x="439.80" y="368.40" font-size="7.3" text-anchor="end" font-weight="bold" fill="#000">-1000</text>
<line x1="440.80" y1="402.00" x2="442.80" y2="402.00" stroke="#333" stroke-width="0.8" />
<text x="439.80" y="404.60" font-size="7.3" text-anchor="end" font-weight="bold" fill="#000">-2000</text>
<line x1="451.24" y1="405.00" x2="451.24" y2="407.00" stroke="#333" stroke-width="0.8" />
<text x="451.24" y="414.00" font-size="7.3" text-anchor="middle" font-weight="bold" fill="#000">-3000</text>
<line x1="479.36" y1="405.00" x2="479.36" y2="407.00" stroke="#333" stroke-width="0.8" />
<text x="479.36" y="414.00" font-size="7.3" text-anchor="middle" font-weight="bold" fill="#000">-2000</text>
<line x1="507.48" y1="405.00" x2="507.48" y2="407.00" stroke="#333" stroke-width="0.8" />
<text x="507.48" y="414.00" font-size="7.3" text-anchor="middle" font-weight="bold" fill="#000">-1000</text>
<line x1="535.60" y1="405.00" x2="535.60" y2="407.00" stroke="#333" stroke-width="0.8" />
<text x="535.60" y="414.00" font-size="7.3" text-anchor="middle" font-weight="bold" fill="#000">0</text>
<line x1="563.72" y1="405.00" x2="563.72" y2="407.00" stroke="#333" stroke-width="0.8" />
<text x="563.72" y="414.00" font-size="7.3" text-anchor="middle" font-weight="bold" fill="#000">1000</text>
<line x1="591.84" y1="405.00" x2="591.84" y2="407.00" stroke="#333" stroke-width="0.8" />
<text x="591.84" y="414.00" font-size="7.3" text-anchor="middle" font-weight="bold" fill="#000">2000</text>
<text x="522.00" y="425.40" font-size="9.5" text-anchor="middle" font-weight="bold" fill="#000" textLength="57.50" lengthAdjust="spacingAndGlyphs">PC1 (40.1%)</text>
<text x="0.00" y="0.00" font-size="10.2" text-anchor="middle" font-weight="bold" fill="#000" textLength="56.70" lengthAdjust="spacingAndGlyphs" transform="translate(420.4,325.7) rotate(-90)">PC2 (25.2%)</text>
<g clip-path="url(#clipD)">
<ellipse cx="539.5" cy="311.5" rx="68.5" ry="5.4" transform="rotate(49.9 539.5 311.5)" fill="none" stroke="#f8766d" stroke-width="0.9"/>
<ellipse cx="517.3" cy="350.25" rx="70.5" ry="1.6" transform="rotate(-16.6 517.3 350.25)" fill="none" stroke="#7cae00" stroke-width="0.5"/>
<ellipse cx="517.3" cy="350.25" rx="70.3" ry="0.55" transform="rotate(-16.6 517.3 350.25)" fill="none" stroke="#7cae00" stroke-width="0.45"/>
<ellipse cx="542.0" cy="332.0" rx="49.0" ry="9.2" transform="rotate(17.2 542.0 332.0)" fill="none" stroke="#c77cff" stroke-width="0.9"/>
<ellipse cx="543.0" cy="323.5" rx="93.6" ry="2.2" transform="rotate(51.9 543.0 323.5)" fill="none" stroke="#00bfc4" stroke-width="0.75"/>
<circle cx="528.0" cy="296.0" r="2.3" fill="#f8766d"/>
<circle cx="534.1" cy="308.0" r="2.3" fill="#f8766d"/>
<polygon points="539.7,308.90000000000003 536.6550000000001,313.975 542.745,313.975" fill="#f8766d"/>
<circle cx="556.9" cy="332.2" r="2.3" fill="#f8766d"/>
<circle cx="523.4" cy="325.5" r="2.3" fill="#c77cff"/>
<polygon points="542.0,328.5 538.955,333.575 545.045,333.575" fill="#c77cff"/>
<circle cx="553.1" cy="332.2" r="2.3" fill="#c77cff"/>
<circle cx="549.0" cy="337.2" r="2.3" fill="#c77cff"/>
<circle cx="530.6" cy="306.9" r="2.3" fill="#00bfc4"/>
<circle cx="532.1" cy="310.4" r="2.3" fill="#00bfc4"/>
<polygon points="543.2,320.90000000000003 540.1550000000001,325.975 546.245,325.975" fill="#00bfc4"/>
<polygon points="566.6,350.5 569.4,353.3 566.6,356.1 563.8000000000001,353.3" fill="#00bfc4"/>
<circle cx="491.2" cy="357.9" r="2.3" fill="#7cae00"/>
<polygon points="517.5,346.90000000000003 514.455,351.975 520.545,351.975" fill="#7cae00"/>
<circle cx="525.1" cy="348.3" r="2.3" fill="#7cae00"/>
<circle cx="536.2" cy="344.2" r="2.3" fill="#7cae00"/>
</g>
<rect x="539.6" y="247.4" width="7.0" height="7.8" fill="#f7f7f7" stroke="#e6e6e6" stroke-width="0.5"/>
<circle cx="543.1" cy="251.3" r="2.3" fill="#f8766d"/>
<text x="548.90" y="253.80" font-size="6.8" text-anchor="start" font-weight="bold" fill="#000" textLength="9.60" lengthAdjust="spacingAndGlyphs">IgG</text>
<rect x="539.6" y="255.3" width="7.0" height="7.8" fill="#f7f7f7" stroke="#e6e6e6" stroke-width="0.5"/>
<circle cx="543.1" cy="259.2" r="2.3" fill="#7cae00"/>
<text x="548.90" y="261.70" font-size="6.8" text-anchor="start" font-weight="bold" fill="#000" textLength="22.10" lengthAdjust="spacingAndGlyphs">GITR-Fc</text>
<rect x="539.6" y="263.3" width="7.0" height="7.8" fill="#f7f7f7" stroke="#e6e6e6" stroke-width="0.5"/>
<circle cx="543.1" cy="267.2" r="2.3" fill="#00bfc4"/>
<text x="548.90" y="269.70" font-size="6.8" text-anchor="start" font-weight="bold" fill="#000" textLength="9.60" lengthAdjust="spacingAndGlyphs">IgG</text>
<rect x="539.6" y="271.2" width="7.0" height="7.8" fill="#f7f7f7" stroke="#e6e6e6" stroke-width="0.5"/>
<circle cx="543.1" cy="275.1" r="2.3" fill="#c77cff"/>
<text x="548.90" y="277.60" font-size="6.8" text-anchor="start" font-weight="bold" fill="#000" textLength="22.10" lengthAdjust="spacingAndGlyphs">GITR-Fc</text>
<line x1="572.30" y1="249.40" x2="572.30" y2="262.00" stroke="#000" stroke-width="0.7" />
<line x1="572.30" y1="265.20" x2="572.30" y2="277.60" stroke="#000" stroke-width="0.7" />
<text x="573.40" y="259.00" font-size="5.8" text-anchor="start" font-weight="bold" fill="#000" textLength="20.30" lengthAdjust="spacingAndGlyphs">Tnfsf18</text>
<text x="594.40" y="255.60" font-size="4.6" text-anchor="start" font-weight="bold" fill="#000" textLength="7.80" lengthAdjust="spacingAndGlyphs">+/+</text>
<text x="573.40" y="274.80" font-size="5.8" text-anchor="start" font-weight="bold" fill="#000" textLength="20.30" lengthAdjust="spacingAndGlyphs">Tnfsf18</text>
<text x="594.40" y="269.40" font-size="4.6" text-anchor="start" font-weight="bold" fill="#000" textLength="5.20" lengthAdjust="spacingAndGlyphs">f/f</text>
<text x="6.60" y="461.30" font-size="17" text-anchor="start" font-weight="bold" fill="#000">E</text>
<text x="132.20" y="462.40" font-size="10.5" text-anchor="start" font-weight="bold" fill="#000" textLength="35.10" lengthAdjust="spacingAndGlyphs">Tnfsf18</text>
<text x="167.40" y="456.20" font-size="8.5" text-anchor="start" font-weight="bold" fill="#000" textLength="12.40" lengthAdjust="spacingAndGlyphs">+/+</text>
<text x="185.70" y="464.00" font-size="10.5" text-anchor="start" font-weight="bold" fill="#000" textLength="71.70" lengthAdjust="spacingAndGlyphs">GITR-Fc vs IgG</text>
<rect x="117.60" y="475.60" width="102.80" height="157.00" fill="#fff" />
<line x1="120.30" y1="475.60" x2="120.30" y2="632.60" stroke="#f4f4f4" stroke-width="0.5" />
<line x1="147.50" y1="475.60" x2="147.50" y2="632.60" stroke="#f4f4f4" stroke-width="0.5" />
<line x1="174.70" y1="475.60" x2="174.70" y2="632.60" stroke="#f4f4f4" stroke-width="0.5" />
<line x1="201.90" y1="475.60" x2="201.90" y2="632.60" stroke="#f4f4f4" stroke-width="0.5" />
<line x1="133.90" y1="475.60" x2="133.90" y2="632.60" stroke="#ebebeb" stroke-width="0.6" />
<line x1="161.10" y1="475.60" x2="161.10" y2="632.60" stroke="#ebebeb" stroke-width="0.6" />
<line x1="188.30" y1="475.60" x2="188.30" y2="632.60" stroke="#ebebeb" stroke-width="0.6" />
<line x1="215.50" y1="475.60" x2="215.50" y2="632.60" stroke="#ebebeb" stroke-width="0.6" />
<line x1="117.60" y1="480.40" x2="220.40" y2="480.40" stroke="#ebebeb" stroke-width="0.6" />
<line x1="117.60" y1="487.79" x2="220.40" y2="487.79" stroke="#ebebeb" stroke-width="0.6" />
<line x1="117.60" y1="495.19" x2="220.40" y2="495.19" stroke="#ebebeb" stroke-width="0.6" />
<line x1="117.60" y1="502.58" x2="220.40" y2="502.58" stroke="#ebebeb" stroke-width="0.6" />
<line x1="117.60" y1="509.98" x2="220.40" y2="509.98" stroke="#ebebeb" stroke-width="0.6" />
<line x1="117.60" y1="517.38" x2="220.40" y2="517.38" stroke="#ebebeb" stroke-width="0.6" />
<line x1="117.60" y1="524.77" x2="220.40" y2="524.77" stroke="#ebebeb" stroke-width="0.6" />
<line x1="117.60" y1="532.16" x2="220.40" y2="532.16" stroke="#ebebeb" stroke-width="0.6" />
<line x1="117.60" y1="539.56" x2="220.40" y2="539.56" stroke="#ebebeb" stroke-width="0.6" />
<line x1="117.60" y1="546.95" x2="220.40" y2="546.95" stroke="#ebebeb" stroke-width="0.6" />
<line x1="117.60" y1="554.35" x2="220.40" y2="554.35" stroke="#ebebeb" stroke-width="0.6" />
<line x1="117.60" y1="561.75" x2="220.40" y2="561.75" stroke="#ebebeb" stroke-width="0.6" />
<line x1="117.60" y1="569.14" x2="220.40" y2="569.14" stroke="#ebebeb" stroke-width="0.6" />
<line x1="117.60" y1="576.53" x2="220.40" y2="576.53" stroke="#ebebeb" stroke-width="0.6" />
<line x1="117.60" y1="583.93" x2="220.40" y2="583.93" stroke="#ebebeb" stroke-width="0.6" />
<line x1="117.60" y1="591.32" x2="220.40" y2="591.32" stroke="#ebebeb" stroke-width="0.6" />
<line x1="117.60" y1="598.72" x2="220.40" y2="598.72" stroke="#ebebeb" stroke-width="0.6" />
<line x1="117.60" y1="606.12" x2="220.40" y2="606.12" stroke="#ebebeb" stroke-width="0.6" />
<line x1="117.60" y1="613.51" x2="220.40" y2="613.51" stroke="#ebebeb" stroke-width="0.6" />
<line x1="117.60" y1="620.90" x2="220.40" y2="620.90" stroke="#ebebeb" stroke-width="0.6" />
<line x1="117.60" y1="628.30" x2="220.40" y2="628.30" stroke="#ebebeb" stroke-width="0.6" />
<rect x="117.60" y="466.20" width="102.80" height="9.40" fill="#d9d9d9" stroke="#8f8f8f" stroke-width="0.8"/>
<rect x="117.60" y="475.60" width="102.80" height="157.00" fill="none" stroke="#8f8f8f" stroke-width="0.9"/>
<text x="175.10" y="473.60" font-size="7" text-anchor="middle" font-weight="bold" fill="#000" textLength="32.20" lengthAdjust="spacingAndGlyphs">Activated</text>
<rect x="222.20" y="475.60" width="102.30" height="157.00" fill="#fff" />
<line x1="225.80" y1="475.60" x2="225.80" y2="632.60" stroke="#f4f4f4" stroke-width="0.5" />
<line x1="253.00" y1="475.60" x2="253.00" y2="632.60" stroke="#f4f4f4" stroke-width="0.5" />
<line x1="280.20" y1="475.60" x2="280.20" y2="632.60" stroke="#f4f4f4" stroke-width="0.5" />
<line x1="307.40" y1="475.60" x2="307.40" y2="632.60" stroke="#f4f4f4" stroke-width="0.5" />
<line x1="239.40" y1="475.60" x2="239.40" y2="632.60" stroke="#ebebeb" stroke-width="0.6" />
<line x1="266.60" y1="475.60" x2="266.60" y2="632.60" stroke="#ebebeb" stroke-width="0.6" />
<line x1="293.80" y1="475.60" x2="293.80" y2="632.60" stroke="#ebebeb" stroke-width="0.6" />
<line x1="321.00" y1="475.60" x2="321.00" y2="632.60" stroke="#ebebeb" stroke-width="0.6" />
<line x1="222.20" y1="480.40" x2="324.50" y2="480.40" stroke="#ebebeb" stroke-width="0.6" />
<line x1="222.20" y1="487.79" x2="324.50" y2="487.79" stroke="#ebebeb" stroke-width="0.6" />
<line x1="222.20" y1="495.19" x2="324.50" y2="495.19" stroke="#ebebeb" stroke-width="0.6" />
<line x1="222.20" y1="502.58" x2="324.50" y2="502.58" stroke="#ebebeb" stroke-width="0.6" />
<line x1="222.20" y1="509.98" x2="324.50" y2="509.98" stroke="#ebebeb" stroke-width="0.6" />
<line x1="222.20" y1="517.38" x2="324.50" y2="517.38" stroke="#ebebeb" stroke-width="0.6" />
<line x1="222.20" y1="524.77" x2="324.50" y2="524.77" stroke="#ebebeb" stroke-width="0.6" />
<line x1="222.20" y1="532.16" x2="324.50" y2="532.16" stroke="#ebebeb" stroke-width="0.6" />
<line x1="222.20" y1="539.56" x2="324.50" y2="539.56" stroke="#ebebeb" stroke-width="0.6" />
<line x1="222.20" y1="546.95" x2="324.50" y2="546.95" stroke="#ebebeb" stroke-width="0.6" />
<line x1="222.20" y1="554.35" x2="324.50" y2="554.35" stroke="#ebebeb" stroke-width="0.6" />
<line x1="222.20" y1="561.75" x2="324.50" y2="561.75" stroke="#ebebeb" stroke-width="0.6" />
<line x1="222.20" y1="569.14" x2="324.50" y2="569.14" stroke="#ebebeb" stroke-width="0.6" />
<line x1="222.20" y1="576.53" x2="324.50" y2="576.53" stroke="#ebebeb" stroke-width="0.6" />
<line x1="222.20" y1="583.93" x2="324.50" y2="583.93" stroke="#ebebeb" stroke-width="0.6" />
<line x1="222.20" y1="591.32" x2="324.50" y2="591.32" stroke="#ebebeb" stroke-width="0.6" />
<line x1="222.20" y1="598.72" x2="324.50" y2="598.72" stroke="#ebebeb" stroke-width="0.6" />
<line x1="222.20" y1="606.12" x2="324.50" y2="606.12" stroke="#ebebeb" stroke-width="0.6" />
<line x1="222.20" y1="613.51" x2="324.50" y2="613.51" stroke="#ebebeb" stroke-width="0.6" />
<line x1="222.20" y1="620.90" x2="324.50" y2="620.90" stroke="#ebebeb" stroke-width="0.6" />
<line x1="222.20" y1="628.30" x2="324.50" y2="628.30" stroke="#ebebeb" stroke-width="0.6" />
<rect x="222.20" y="466.20" width="102.30" height="9.40" fill="#d9d9d9" stroke="#8f8f8f" stroke-width="0.8"/>
<rect x="222.20" y="475.60" width="102.30" height="157.00" fill="none" stroke="#8f8f8f" stroke-width="0.9"/>
<text x="265.30" y="473.60" font-size="7" text-anchor="middle" font-weight="bold" fill="#000" textLength="41.20" lengthAdjust="spacingAndGlyphs">Suppressed</text>
<text x="114.80" y="482.90" font-size="7.1" text-anchor="end" font-weight="bold" fill="#000">Oxidative phosphorylation</text>
<line x1="115.60" y1="480.40" x2="117.60" y2="480.40" stroke="#333" stroke-width="0.7" />
<text x="114.80" y="490.29" font-size="7.1" text-anchor="end" font-weight="bold" fill="#ad2b2e">Wnt/<tspan font-weight="normal">β</tspan>-catenin signaling</text>
<line x1="115.60" y1="487.79" x2="117.60" y2="487.79" stroke="#333" stroke-width="0.7" />
<text x="114.80" y="497.69" font-size="7.1" text-anchor="end" font-weight="bold" fill="#000">UV response DN</text>
<line x1="115.60" y1="495.19" x2="117.60" y2="495.19" stroke="#333" stroke-width="0.7" />
<text x="114.80" y="505.08" font-size="7.1" text-anchor="end" font-weight="bold" fill="#000">Hedgehog signaling</text>
<line x1="115.60" y1="502.58" x2="117.60" y2="502.58" stroke="#333" stroke-width="0.7" />
<text x="114.80" y="512.48" font-size="7.1" text-anchor="end" font-weight="bold" fill="#000">Myc targets V1</text>
<line x1="115.60" y1="509.98" x2="117.60" y2="509.98" stroke="#333" stroke-width="0.7" />
<text x="114.80" y="519.88" font-size="7.1" text-anchor="end" font-weight="bold" fill="#000">DNA repair</text>
<line x1="115.60" y1="517.38" x2="117.60" y2="517.38" stroke="#333" stroke-width="0.7" />
<text x="114.80" y="527.27" font-size="7.1" text-anchor="end" font-weight="bold" fill="#000">Reactive oxygen species pathway</text>
<line x1="115.60" y1="524.77" x2="117.60" y2="524.77" stroke="#333" stroke-width="0.7" />
<text x="114.80" y="534.66" font-size="7.1" text-anchor="end" font-weight="bold" fill="#000">G2M checkpoint</text>
<line x1="115.60" y1="532.16" x2="117.60" y2="532.16" stroke="#333" stroke-width="0.7" />
<text x="114.80" y="542.06" font-size="7.1" text-anchor="end" font-weight="bold" fill="#000">Mitotic spindle</text>
<line x1="115.60" y1="539.56" x2="117.60" y2="539.56" stroke="#333" stroke-width="0.7" />
<text x="114.80" y="549.45" font-size="7.1" text-anchor="end" font-weight="bold" fill="#000">Myogenesis</text>
<line x1="115.60" y1="546.95" x2="117.60" y2="546.95" stroke="#333" stroke-width="0.7" />
<text x="114.80" y="556.85" font-size="7.1" text-anchor="end" font-weight="bold" fill="#000">Fatty acid metabolism</text>
<line x1="115.60" y1="554.35" x2="117.60" y2="554.35" stroke="#333" stroke-width="0.7" />
<text x="114.80" y="564.25" font-size="7.1" text-anchor="end" font-weight="bold" fill="#000">MTORC1 signaling</text>
<line x1="115.60" y1="561.75" x2="117.60" y2="561.75" stroke="#333" stroke-width="0.7" />
<text x="114.80" y="571.64" font-size="7.1" text-anchor="end" font-weight="bold" fill="#000">UV response UP</text>
<line x1="115.60" y1="569.14" x2="117.60" y2="569.14" stroke="#333" stroke-width="0.7" />
<text x="114.80" y="579.03" font-size="7.1" text-anchor="end" font-weight="bold" fill="#000">Estrogen response Early</text>
<line x1="115.60" y1="576.53" x2="117.60" y2="576.53" stroke="#333" stroke-width="0.7" />
<text x="114.80" y="586.43" font-size="7.1" text-anchor="end" font-weight="bold" fill="#000">Complement</text>
<line x1="115.60" y1="583.93" x2="117.60" y2="583.93" stroke="#333" stroke-width="0.7" />
<text x="114.80" y="593.82" font-size="7.1" text-anchor="end" font-weight="bold" fill="#000">Apical junction</text>
<line x1="115.60" y1="591.32" x2="117.60" y2="591.32" stroke="#333" stroke-width="0.7" />
<text x="114.80" y="601.22" font-size="7.1" text-anchor="end" font-weight="bold" fill="#000">KRAS signaling DN</text>
<line x1="115.60" y1="598.72" x2="117.60" y2="598.72" stroke="#333" stroke-width="0.7" />
<text x="114.80" y="608.62" font-size="7.1" text-anchor="end" font-weight="bold" fill="#000">Apoptosis</text>
<line x1="115.60" y1="606.12" x2="117.60" y2="606.12" stroke="#333" stroke-width="0.7" />
<text x="114.80" y="616.01" font-size="7.1" text-anchor="end" font-weight="bold" fill="#000">Adipogenesis</text>
<line x1="115.60" y1="613.51" x2="117.60" y2="613.51" stroke="#333" stroke-width="0.7" />
<text x="114.80" y="623.40" font-size="7.1" text-anchor="end" font-weight="bold" fill="#000">P53 pathway</text>
<line x1="115.60" y1="620.90" x2="117.60" y2="620.90" stroke="#333" stroke-width="0.7" />
<text x="114.80" y="630.80" font-size="7.1" text-anchor="end" font-weight="bold" fill="#000">Peroxisome</text>
<line x1="115.60" y1="628.30" x2="117.60" y2="628.30" stroke="#333" stroke-width="0.7" />
<line x1="133.90" y1="632.60" x2="133.90" y2="634.60" stroke="#333" stroke-width="0.7" />
<text x="133.90" y="641.00" font-size="7.1" text-anchor="middle" font-weight="bold" fill="#000">0.3</text>
<line x1="239.40" y1="632.60" x2="239.40" y2="634.60" stroke="#333" stroke-width="0.7" />
<text x="239.40" y="641.00" font-size="7.1" text-anchor="middle" font-weight="bold" fill="#000">0.3</text>
<line x1="161.10" y1="632.60" x2="161.10" y2="634.60" stroke="#333" stroke-width="0.7" />
<text x="161.10" y="641.00" font-size="7.1" text-anchor="middle" font-weight="bold" fill="#000">0.4</text>
<line x1="266.60" y1="632.60" x2="266.60" y2="634.60" stroke="#333" stroke-width="0.7" />
<text x="266.60" y="641.00" font-size="7.1" text-anchor="middle" font-weight="bold" fill="#000">0.4</text>
<line x1="188.30" y1="632.60" x2="188.30" y2="634.60" stroke="#333" stroke-width="0.7" />
<text x="188.30" y="641.00" font-size="7.1" text-anchor="middle" font-weight="bold" fill="#000">0.5</text>
<line x1="293.80" y1="632.60" x2="293.80" y2="634.60" stroke="#333" stroke-width="0.7" />
<text x="293.80" y="641.00" font-size="7.1" text-anchor="middle" font-weight="bold" fill="#000">0.5</text>
<line x1="215.50" y1="632.60" x2="215.50" y2="634.60" stroke="#333" stroke-width="0.7" />
<text x="215.50" y="641.00" font-size="7.1" text-anchor="middle" font-weight="bold" fill="#000">0.6</text>
<line x1="321.00" y1="632.60" x2="321.00" y2="634.60" stroke="#333" stroke-width="0.7" />
<text x="321.00" y="641.00" font-size="7.1" text-anchor="middle" font-weight="bold" fill="#000">0.6</text>
<text x="220.60" y="649.80" font-size="7.1" text-anchor="middle" font-weight="bold" fill="#000" textLength="37.70" lengthAdjust="spacingAndGlyphs">Gene Ratio</text>
<ellipse cx="215.30" cy="480.40" rx="3.2" ry="4.3" fill="#ff0000"/>
<ellipse cx="181.20" cy="509.98" rx="3.0" ry="4.0" fill="#ff0000"/>
<ellipse cx="179.50" cy="517.38" rx="2.8" ry="3.6" fill="#ff0000"/>
<ellipse cx="166.90" cy="524.77" rx="1.5" ry="2.0" fill="#ff0000"/>
<ellipse cx="159.50" cy="554.35" rx="2.6" ry="3.4" fill="#ff0000"/>
<ellipse cx="158.80" cy="561.75" rx="3.0" ry="3.9" fill="#ff0000"/>
<ellipse cx="150.20" cy="569.14" rx="2.3" ry="3.1" fill="#ff0000"/>
<ellipse cx="146.10" cy="583.93" rx="2.5" ry="3.3" fill="#ff0000"/>
<ellipse cx="134.10" cy="606.12" rx="2.2" ry="2.9" fill="#ff0000"/>
<ellipse cx="133.00" cy="613.51" rx="2.4" ry="3.2" fill="#ff0000"/>
<ellipse cx="129.40" cy="620.90" rx="2.3" ry="3.0" fill="#ff0000"/>
<ellipse cx="122.30" cy="628.30" rx="1.8" ry="2.3" fill="#ff0000"/>
<ellipse cx="290.50" cy="487.79" rx="1.5" ry="2.1" fill="#ff0000"/>
<ellipse cx="287.20" cy="495.19" rx="2.4" ry="3.6" fill="#ff0000"/>
<ellipse cx="286.00" cy="502.58" rx="1.1" ry="1.5" fill="#ff0000"/>
<ellipse cx="266.30" cy="532.16" rx="2.7" ry="4.0" fill="#1010ff"/>
<ellipse cx="264.80" cy="539.56" rx="2.7" ry="3.9" fill="#ff0000"/>
<ellipse cx="263.90" cy="546.95" rx="2.6" ry="3.7" fill="#ff0000"/>
<ellipse cx="251.50" cy="576.53" rx="2.5" ry="3.6" fill="#ff0000"/>
<ellipse cx="249.70" cy="591.32" rx="2.4" ry="3.4" fill="#d0127e"/>
<ellipse cx="241.40" cy="598.72" rx="2.4" ry="3.3" fill="#dc1468"/>
<text x="324.90" y="502.40" font-size="7.1" text-anchor="start" font-weight="bold" fill="#000" textLength="27.40" lengthAdjust="spacingAndGlyphs">p.adjust</text>
<rect x="327.0" y="504.6" width="5.9" height="45.1" fill="url(#padj)"/>
<line x1="327.00" y1="506.40" x2="328.10" y2="506.40" stroke="#fff" stroke-width="0.6" />
<line x1="331.80" y1="506.40" x2="332.90" y2="506.40" stroke="#fff" stroke-width="0.6" />
<text x="333.60" y="508.40" font-size="5.4" text-anchor="start" font-weight="bold" fill="#000" textLength="11.00" lengthAdjust="spacingAndGlyphs">0.01</text>
<line x1="327.00" y1="519.60" x2="328.10" y2="519.60" stroke="#fff" stroke-width="0.6" />
<line x1="331.80" y1="519.60" x2="332.90" y2="519.60" stroke="#fff" stroke-width="0.6" />
<text x="333.60" y="521.60" font-size="5.4" text-anchor="start" font-weight="bold" fill="#000" textLength="11.00" lengthAdjust="spacingAndGlyphs">0.02</text>
<line x1="327.00" y1="532.60" x2="328.10" y2="532.60" stroke="#fff" stroke-width="0.6" />
<line x1="331.80" y1="532.60" x2="332.90" y2="532.60" stroke="#fff" stroke-width="0.6" />
<text x="333.60" y="534.60" font-size="5.4" text-anchor="start" font-weight="bold" fill="#000" textLength="11.00" lengthAdjust="spacingAndGlyphs">0.03</text>
<line x1="327.00" y1="547.60" x2="328.10" y2="547.60" stroke="#fff" stroke-width="0.6" />
<line x1="331.80" y1="547.60" x2="332.90" y2="547.60" stroke="#fff" stroke-width="0.6" />
<text x="333.60" y="549.60" font-size="5.4" text-anchor="start" font-weight="bold" fill="#000" textLength="11.00" lengthAdjust="spacingAndGlyphs">0.04</text>
<text x="324.90" y="569.00" font-size="7.1" text-anchor="start" font-weight="bold" fill="#000" textLength="20.40" lengthAdjust="spacingAndGlyphs">Count</text>
<ellipse cx="330.20" cy="575.30" rx="1.7" ry="2.4" fill="#000"/>
<text x="333.80" y="577.30" font-size="5.4" text-anchor="start" font-weight="bold" fill="#000" textLength="7.20" lengthAdjust="spacingAndGlyphs">30</text>
<ellipse cx="330.20" cy="584.80" rx="2.2" ry="3.0" fill="#000"/>
<text x="333.80" y="586.80" font-size="5.4" text-anchor="start" font-weight="bold" fill="#000" textLength="7.20" lengthAdjust="spacingAndGlyphs">60</text>
<ellipse cx="330.20" cy="594.30" rx="2.6" ry="3.6" fill="#000"/>
<text x="333.80" y="596.30" font-size="5.4" text-anchor="start" font-weight="bold" fill="#000" textLength="7.20" lengthAdjust="spacingAndGlyphs">90</text>
<text x="466.20" y="462.10" font-size="10.5" text-anchor="start" font-weight="bold" fill="#000" textLength="34.50" lengthAdjust="spacingAndGlyphs">Tnfsf18</text>
<text x="503.60" y="458.40" font-size="8.8" text-anchor="start" font-weight="bold" fill="#000" textLength="7.60" lengthAdjust="spacingAndGlyphs">f/f</text>
<text x="518.80" y="464.20" font-size="10.5" text-anchor="start" font-weight="bold" fill="#000" textLength="71.70" lengthAdjust="spacingAndGlyphs">GITR-Fc vs IgG</text>
<rect x="449.90" y="476.10" width="102.50" height="156.10" fill="#fff" />
<line x1="472.73" y1="476.10" x2="472.73" y2="632.20" stroke="#f4f4f4" stroke-width="0.5" />
<line x1="502.18" y1="476.10" x2="502.18" y2="632.20" stroke="#f4f4f4" stroke-width="0.5" />
<line x1="531.62" y1="476.10" x2="531.62" y2="632.20" stroke="#f4f4f4" stroke-width="0.5" />
<line x1="458.00" y1="476.10" x2="458.00" y2="632.20" stroke="#ebebeb" stroke-width="0.6" />
<line x1="487.45" y1="476.10" x2="487.45" y2="632.20" stroke="#ebebeb" stroke-width="0.6" />
<line x1="516.90" y1="476.10" x2="516.90" y2="632.20" stroke="#ebebeb" stroke-width="0.6" />
<line x1="546.35" y1="476.10" x2="546.35" y2="632.20" stroke="#ebebeb" stroke-width="0.6" />
<line x1="449.90" y1="483.50" x2="552.40" y2="483.50" stroke="#ebebeb" stroke-width="0.6" />
<line x1="449.90" y1="495.35" x2="552.40" y2="495.35" stroke="#ebebeb" stroke-width="0.6" />
<line x1="449.90" y1="507.20" x2="552.40" y2="507.20" stroke="#ebebeb" stroke-width="0.6" />
<line x1="449.90" y1="519.05" x2="552.40" y2="519.05" stroke="#ebebeb" stroke-width="0.6" />
<line x1="449.90" y1="530.90" x2="552.40" y2="530.90" stroke="#ebebeb" stroke-width="0.6" />
<line x1="449.90" y1="542.75" x2="552.40" y2="542.75" stroke="#ebebeb" stroke-width="0.6" />
<line x1="449.90" y1="554.60" x2="552.40" y2="554.60" stroke="#ebebeb" stroke-width="0.6" />
<line x1="449.90" y1="566.45" x2="552.40" y2="566.45" stroke="#ebebeb" stroke-width="0.6" />
<line x1="449.90" y1="578.30" x2="552.40" y2="578.30" stroke="#ebebeb" stroke-width="0.6" />
<line x1="449.90" y1="590.15" x2="552.40" y2="590.15" stroke="#ebebeb" stroke-width="0.6" />
<line x1="449.90" y1="602.00" x2="552.40" y2="602.00" stroke="#ebebeb" stroke-width="0.6" />
<line x1="449.90" y1="613.85" x2="552.40" y2="613.85" stroke="#ebebeb" stroke-width="0.6" />
<line x1="449.90" y1="625.70" x2="552.40" y2="625.70" stroke="#ebebeb" stroke-width="0.6" />
<rect x="449.90" y="466.60" width="102.50" height="9.50" fill="#d9d9d9" stroke="#8f8f8f" stroke-width="0.8"/>
<rect x="449.90" y="476.10" width="102.50" height="156.10" fill="none" stroke="#8f8f8f" stroke-width="0.9"/>
<text x="505.10" y="474.00" font-size="7" text-anchor="middle" font-weight="bold" fill="#000" textLength="32.20" lengthAdjust="spacingAndGlyphs">Activated</text>
<rect x="553.90" y="476.10" width="102.90" height="156.10" fill="#fff" />
<line x1="576.52" y1="476.10" x2="576.52" y2="632.20" stroke="#f4f4f4" stroke-width="0.5" />
<line x1="605.97" y1="476.10" x2="605.97" y2="632.20" stroke="#f4f4f4" stroke-width="0.5" />
<line x1="635.42" y1="476.10" x2="635.42" y2="632.20" stroke="#f4f4f4" stroke-width="0.5" />
<line x1="561.80" y1="476.10" x2="561.80" y2="632.20" stroke="#ebebeb" stroke-width="0.6" />
<line x1="591.25" y1="476.10" x2="591.25" y2="632.20" stroke="#ebebeb" stroke-width="0.6" />
<line x1="620.70" y1="476.10" x2="620.70" y2="632.20" stroke="#ebebeb" stroke-width="0.6" />
<line x1="650.15" y1="476.10" x2="650.15" y2="632.20" stroke="#ebebeb" stroke-width="0.6" />
<line x1="553.90" y1="483.50" x2="656.80" y2="483.50" stroke="#ebebeb" stroke-width="0.6" />
<line x1="553.90" y1="495.35" x2="656.80" y2="495.35" stroke="#ebebeb" stroke-width="0.6" />
<line x1="553.90" y1="507.20" x2="656.80" y2="507.20" stroke="#ebebeb" stroke-width="0.6" />
<line x1="553.90" y1="519.05" x2="656.80" y2="519.05" stroke="#ebebeb" stroke-width="0.6" />
<line x1="553.90" y1="530.90" x2="656.80" y2="530.90" stroke="#ebebeb" stroke-width="0.6" />
<line x1="553.90" y1="542.75" x2="656.80" y2="542.75" stroke="#ebebeb" stroke-width="0.6" />
<line x1="553.90" y1="554.60" x2="656.80" y2="554.60" stroke="#ebebeb" stroke-width="0.6" />
<line x1="553.90" y1="566.45" x2="656.80" y2="566.45" stroke="#ebebeb" stroke-width="0.6" />
<line x1="553.90" y1="578.30" x2="656.80" y2="578.30" stroke="#ebebeb" stroke-width="0.6" />
<line x1="553.90" y1="590.15" x2="656.80" y2="590.15" stroke="#ebebeb" stroke-width="0.6" />
<line x1="553.90" y1="602.00" x2="656.80" y2="602.00" stroke="#ebebeb" stroke-width="0.6" />
<line x1="553.90" y1="613.85" x2="656.80" y2="613.85" stroke="#ebebeb" stroke-width="0.6" />
<line x1="553.90" y1="625.70" x2="656.80" y2="625.70" stroke="#ebebeb" stroke-width="0.6" />
<rect x="553.90" y="466.60" width="102.90" height="9.50" fill="#d9d9d9" stroke="#8f8f8f" stroke-width="0.8"/>
<rect x="553.90" y="476.10" width="102.90" height="156.10" fill="none" stroke="#8f8f8f" stroke-width="0.9"/>
<text x="595.00" y="474.00" font-size="7" text-anchor="middle" font-weight="bold" fill="#000" textLength="41.20" lengthAdjust="spacingAndGlyphs">Suppressed</text>
<text x="445.80" y="486.00" font-size="7.1" text-anchor="end" font-weight="bold" fill="#000">Myc targets V1</text>
<line x1="447.90" y1="483.50" x2="449.90" y2="483.50" stroke="#333" stroke-width="0.7" />
<text x="445.80" y="497.85" font-size="7.1" text-anchor="end" font-weight="bold" fill="#000">Myc targets V2</text>
<line x1="447.90" y1="495.35" x2="449.90" y2="495.35" stroke="#333" stroke-width="0.7" />
<text x="445.80" y="509.70" font-size="7.1" text-anchor="end" font-weight="bold" fill="#000">MTORC1 signaling</text>
<line x1="447.90" y1="507.20" x2="449.90" y2="507.20" stroke="#333" stroke-width="0.7" />
<text x="445.80" y="521.55" font-size="7.1" text-anchor="end" font-weight="bold" fill="#000">Interferon <tspan font-weight="normal">α</tspan> response</text>
<line x1="447.90" y1="519.05" x2="449.90" y2="519.05" stroke="#333" stroke-width="0.7" />
<text x="445.80" y="533.40" font-size="7.1" text-anchor="end" font-weight="bold" fill="#000">Oxidative phosphorylation</text>
<line x1="447.90" y1="530.90" x2="449.90" y2="530.90" stroke="#333" stroke-width="0.7" />
<text x="445.80" y="545.25" font-size="7.1" text-anchor="end" font-weight="bold" fill="#000">Estrogen response Late</text>
<line x1="447.90" y1="542.75" x2="449.90" y2="542.75" stroke="#333" stroke-width="0.7" />
<text x="445.80" y="557.10" font-size="7.1" text-anchor="end" font-weight="bold" fill="#000">DNA repair</text>
<line x1="447.90" y1="554.60" x2="449.90" y2="554.60" stroke="#333" stroke-width="0.7" />
<text x="445.80" y="568.95" font-size="7.1" text-anchor="end" font-weight="bold" fill="#000">Hypoxia</text>
<line x1="447.90" y1="566.45" x2="449.90" y2="566.45" stroke="#333" stroke-width="0.7" />
<text x="445.80" y="580.80" font-size="7.1" text-anchor="end" font-weight="bold" fill="#000">TNF<tspan font-weight="normal">α</tspan> signaling via NF-<tspan font-weight="normal">κ</tspan>B</text>
<line x1="447.90" y1="578.30" x2="449.90" y2="578.30" stroke="#333" stroke-width="0.7" />
<text x="445.80" y="592.65" font-size="7.1" text-anchor="end" font-weight="bold" fill="#000">Estrogen response Early</text>
<line x1="447.90" y1="590.15" x2="449.90" y2="590.15" stroke="#333" stroke-width="0.7" />
<text x="445.80" y="604.50" font-size="7.1" text-anchor="end" font-weight="bold" fill="#000">Interferon <tspan font-weight="normal">γ</tspan> response</text>
<line x1="447.90" y1="602.00" x2="449.90" y2="602.00" stroke="#333" stroke-width="0.7" />
<text x="445.80" y="616.35" font-size="7.1" text-anchor="end" font-weight="bold" fill="#000">Myogenesis</text>
<line x1="447.90" y1="613.85" x2="449.90" y2="613.85" stroke="#333" stroke-width="0.7" />
<text x="445.80" y="628.20" font-size="7.1" text-anchor="end" font-weight="bold" fill="#000">Allograft rejection</text>
<line x1="447.90" y1="625.70" x2="449.90" y2="625.70" stroke="#333" stroke-width="0.7" />
<line x1="458.00" y1="632.20" x2="458.00" y2="634.20" stroke="#333" stroke-width="0.7" />
<text x="458.00" y="640.60" font-size="7.1" text-anchor="middle" font-weight="bold" fill="#000">0.2</text>
<line x1="561.80" y1="632.20" x2="561.80" y2="634.20" stroke="#333" stroke-width="0.7" />
<text x="561.80" y="640.60" font-size="7.1" text-anchor="middle" font-weight="bold" fill="#000">0.2</text>
<line x1="487.45" y1="632.20" x2="487.45" y2="634.20" stroke="#333" stroke-width="0.7" />
<text x="487.45" y="640.60" font-size="7.1" text-anchor="middle" font-weight="bold" fill="#000">0.3</text>
<line x1="591.25" y1="632.20" x2="591.25" y2="634.20" stroke="#333" stroke-width="0.7" />
<text x="591.25" y="640.60" font-size="7.1" text-anchor="middle" font-weight="bold" fill="#000">0.3</text>
<line x1="516.90" y1="632.20" x2="516.90" y2="634.20" stroke="#333" stroke-width="0.7" />
<text x="516.90" y="640.60" font-size="7.1" text-anchor="middle" font-weight="bold" fill="#000">0.4</text>
<line x1="620.70" y1="632.20" x2="620.70" y2="634.20" stroke="#333" stroke-width="0.7" />
<text x="620.70" y="640.60" font-size="7.1" text-anchor="middle" font-weight="bold" fill="#000">0.4</text>
<line x1="546.35" y1="632.20" x2="546.35" y2="634.20" stroke="#333" stroke-width="0.7" />
<text x="546.35" y="640.60" font-size="7.1" text-anchor="middle" font-weight="bold" fill="#000">0.5</text>
<line x1="650.15" y1="632.20" x2="650.15" y2="634.20" stroke="#333" stroke-width="0.7" />
<text x="650.15" y="640.60" font-size="7.1" text-anchor="middle" font-weight="bold" fill="#000">0.5</text>
<text x="555.30" y="649.60" font-size="7.1" text-anchor="middle" font-weight="bold" fill="#000" textLength="37.70" lengthAdjust="spacingAndGlyphs">Gene Ratio</text>
<ellipse cx="547.20" cy="483.50" rx="3.2" ry="4.3" fill="#ff0000"/>
<ellipse cx="530.70" cy="495.35" rx="1.1" ry="1.5" fill="#ff0000"/>
<ellipse cx="524.60" cy="507.20" rx="2.8" ry="3.8" fill="#ff0000"/>
<ellipse cx="516.50" cy="519.05" rx="2.0" ry="2.8" fill="#ff0000"/>
<ellipse cx="513.60" cy="530.90" rx="2.6" ry="3.5" fill="#ff0000"/>
<ellipse cx="500.70" cy="554.60" rx="2.2" ry="3.0" fill="#8a16e6"/>
<ellipse cx="496.90" cy="566.45" rx="2.4" ry="3.2" fill="#ff0000"/>
<ellipse cx="496.40" cy="578.30" rx="2.4" ry="3.2" fill="#ff0000"/>
<ellipse cx="488.80" cy="602.00" rx="2.3" ry="3.0" fill="#ff0000"/>
<ellipse cx="454.20" cy="625.70" rx="1.7" ry="2.4" fill="#8a16e6"/>
<ellipse cx="608.50" cy="542.75" rx="2.3" ry="3.1" fill="#ff0000"/>
<ellipse cx="597.90" cy="590.15" rx="2.4" ry="3.3" fill="#ff0000"/>
<ellipse cx="576.20" cy="613.85" rx="2.0" ry="2.7" fill="#1010ff"/>
<text x="658.00" y="502.40" font-size="7.1" text-anchor="start" font-weight="bold" fill="#000" textLength="27.40" lengthAdjust="spacingAndGlyphs">p.adjust</text>
<rect x="658.4" y="506.2" width="5.9" height="44.8" fill="url(#padj)"/>
<line x1="658.40" y1="517.10" x2="659.50" y2="517.10" stroke="#fff" stroke-width="0.6" />
<line x1="663.20" y1="517.10" x2="664.30" y2="517.10" stroke="#fff" stroke-width="0.6" />
<text x="665.60" y="519.10" font-size="5.4" text-anchor="start" font-weight="bold" fill="#000" textLength="13.80" lengthAdjust="spacingAndGlyphs">0.015</text>
<line x1="658.40" y1="529.30" x2="659.50" y2="529.30" stroke="#fff" stroke-width="0.6" />
<line x1="663.20" y1="529.30" x2="664.30" y2="529.30" stroke="#fff" stroke-width="0.6" />
<text x="665.60" y="531.30" font-size="5.4" text-anchor="start" font-weight="bold" fill="#000" textLength="13.80" lengthAdjust="spacingAndGlyphs">0.020</text>
<line x1="658.40" y1="541.10" x2="659.50" y2="541.10" stroke="#fff" stroke-width="0.6" />
<line x1="663.20" y1="541.10" x2="664.30" y2="541.10" stroke="#fff" stroke-width="0.6" />
<text x="665.60" y="543.10" font-size="5.4" text-anchor="start" font-weight="bold" fill="#000" textLength="13.80" lengthAdjust="spacingAndGlyphs">0.025</text>
<text x="660.40" y="569.20" font-size="7.1" text-anchor="start" font-weight="bold" fill="#000" textLength="20.40" lengthAdjust="spacingAndGlyphs">Count</text>
<ellipse cx="662.00" cy="575.50" rx="1.8" ry="2.4" fill="#000"/>
<text x="669.60" y="577.50" font-size="5.4" text-anchor="start" font-weight="bold" fill="#000" textLength="7.20" lengthAdjust="spacingAndGlyphs">40</text>
<ellipse cx="662.00" cy="585.40" rx="2.3" ry="3.1" fill="#000"/>
<text x="669.60" y="587.40" font-size="5.4" text-anchor="start" font-weight="bold" fill="#000" textLength="7.20" lengthAdjust="spacingAndGlyphs">60</text>
<ellipse cx="662.00" cy="595.30" rx="2.8" ry="3.6" fill="#000"/>
<text x="669.60" y="597.30" font-size="5.4" text-anchor="start" font-weight="bold" fill="#000" textLength="7.20" lengthAdjust="spacingAndGlyphs">80</text>
<text x="6.60" y="662.50" font-size="17" text-anchor="start" font-weight="bold" fill="#000">F</text>
<text x="57.30" y="686.40" font-size="10.5" text-anchor="start" font-weight="bold" fill="#a8282b" textLength="222.30" lengthAdjust="spacingAndGlyphs">HALLMARK of WNT/beta-CATENIN SIGNALING</text>
<line x1="73.70" y1="697.00" x2="73.70" y2="768.50" stroke="#ececec" stroke-width="0.5" />
<line x1="73.70" y1="795.00" x2="73.70" y2="832.50" stroke="#ececec" stroke-width="0.5" />
<line x1="124.00" y1="697.00" x2="124.00" y2="768.50" stroke="#ececec" stroke-width="0.5" />
<line x1="124.00" y1="795.00" x2="124.00" y2="832.50" stroke="#ececec" stroke-width="0.5" />
<line x1="173.50" y1="697.00" x2="173.50" y2="768.50" stroke="#ececec" stroke-width="0.5" />
<line x1="173.50" y1="795.00" x2="173.50" y2="832.50" stroke="#ececec" stroke-width="0.5" />
<line x1="223.00" y1="697.00" x2="223.00" y2="768.50" stroke="#ececec" stroke-width="0.5" />
<line x1="223.00" y1="795.00" x2="223.00" y2="832.50" stroke="#ececec" stroke-width="0.5" />
<line x1="272.80" y1="697.00" x2="272.80" y2="768.50" stroke="#ececec" stroke-width="0.5" />
<line x1="272.80" y1="795.00" x2="272.80" y2="832.50" stroke="#ececec" stroke-width="0.5" />
<line x1="322.60" y1="697.00" x2="322.60" y2="768.50" stroke="#ececec" stroke-width="0.5" />
<line x1="322.60" y1="795.00" x2="322.60" y2="832.50" stroke="#ececec" stroke-width="0.5" />
<line x1="24.40" y1="697.00" x2="24.40" y2="832.50" stroke="#7a7a7a" stroke-width="0.8" />
<line x1="22.40" y1="700.90" x2="24.40" y2="700.90" stroke="#555" stroke-width="0.7" />
<text x="23.00" y="703.00" font-size="6" text-anchor="end" font-weight="bold" fill="#000" textLength="8.30" lengthAdjust="spacingAndGlyphs">0.0</text>
<line x1="22.40" y1="713.42" x2="24.40" y2="713.42" stroke="#555" stroke-width="0.7" />
<text x="23.00" y="715.52" font-size="6" text-anchor="end" font-weight="bold" fill="#000" textLength="10.00" lengthAdjust="spacingAndGlyphs">-0.1</text>
<line x1="22.40" y1="725.94" x2="24.40" y2="725.94" stroke="#555" stroke-width="0.7" />
<text x="23.00" y="728.04" font-size="6" text-anchor="end" font-weight="bold" fill="#000" textLength="10.00" lengthAdjust="spacingAndGlyphs">-0.2</text>
<line x1="22.40" y1="738.46" x2="24.40" y2="738.46" stroke="#555" stroke-width="0.7" />
<text x="23.00" y="740.56" font-size="6" text-anchor="end" font-weight="bold" fill="#000" textLength="10.00" lengthAdjust="spacingAndGlyphs">-0.3</text>
<line x1="22.40" y1="750.98" x2="24.40" y2="750.98" stroke="#555" stroke-width="0.7" />
<text x="23.00" y="753.08" font-size="6" text-anchor="end" font-weight="bold" fill="#000" textLength="10.00" lengthAdjust="spacingAndGlyphs">-0.4</text>
<line x1="22.40" y1="763.50" x2="24.40" y2="763.50" stroke="#555" stroke-width="0.7" />
<text x="23.00" y="765.60" font-size="6" text-anchor="end" font-weight="bold" fill="#000" textLength="10.00" lengthAdjust="spacingAndGlyphs">-0.5</text>
<text x="0.00" y="0.00" font-size="6" text-anchor="middle" font-weight="bold" fill="#000" textLength="73.70" lengthAdjust="spacingAndGlyphs" transform="translate(11.2,730.9) rotate(-90)">Running Enrichment Score</text>
<text x="0.00" y="0.00" font-size="6" text-anchor="middle" font-weight="bold" fill="#000" textLength="49.00" lengthAdjust="spacingAndGlyphs" transform="translate(11.2,812.3) rotate(-90)">Ranked list metric</text>
<polyline fill="none" stroke="#3ef03e" stroke-width="1.0" stroke-linejoin="round" points="24.4,700.9 48.5,710.6 49.2,706.4 54.6,708.7 55.5,704.5 67.9,709.4 69.0,706.4 75.1,708.2 76.1,705.4 77.9,706.8 78.9,704.5 84.2,706.4 85.4,705.0 99.0,710.6 99.9,709.2 105.3,711.5 106.4,710.1 132.1,720.4 132.8,719.9 144.8,724.6 145.2,724.0 151.0,726.2 151.4,725.6 168.4,732.4 168.8,731.8 170.1,732.4 170.5,731.9 186.1,738.5 186.5,738.0 198.5,743.0 198.9,742.5 218.2,750.8 220.1,751.6 220.5,751.0 224.1,752.6 224.5,752.0 230.3,754.3 230.7,753.8 234.5,755.4 234.9,754.8 240.2,756.8 240.6,756.2 244.5,757.7 244.9,757.1 263.8,765.2 265.1,763.8 268.8,764.6 269.2,763.9 275.9,765.6 277.3,757.7 288.3,761.8 289.1,759.4 292.1,760.6 292.5,756.6 303.0,760.4 304.9,749.6 312.8,752.0 314.7,746.1 316.2,746.9 316.9,737.9 318.9,738.8 319.7,731.2 321.6,731.9 323.3,727.4 323.9,726.9 325.8,727.5 326.9,716.9 329.2,717.5 330.1,707.5 331.0,706.5 331.8,700.5"/>
<rect x="208.90" y="702.10" width="49.70" height="12.40" fill="#c8c8c8" />
<rect x="259.60" y="702.10" width="50.40" height="12.40" fill="#adadad" />
<rect x="208.90" y="715.70" width="49.70" height="12.10" fill="#ececec" />
<rect x="259.60" y="715.70" width="50.40" height="12.10" fill="#d6d6d6" />
<text x="233.80" y="711.60" font-size="10" text-anchor="middle" font-weight="bold" fill="#000" textLength="32.00" lengthAdjust="spacingAndGlyphs">pvalue</text>
<text x="284.80" y="711.60" font-size="10" text-anchor="middle" font-weight="bold" fill="#000" textLength="38.50" lengthAdjust="spacingAndGlyphs">p.adjust</text>
<text x="233.80" y="726.60" font-size="10" text-anchor="middle" font-weight="bold" fill="#000" textLength="30.80" lengthAdjust="spacingAndGlyphs">0.0071</text>
<text x="284.80" y="726.60" font-size="10" text-anchor="middle" font-weight="bold" fill="#000" textLength="30.80" lengthAdjust="spacingAndGlyphs">0.0186</text>
<line x1="49.00" y1="769.30" x2="49.00" y2="787.00" stroke="#b0b0b0" stroke-width="0.8" />
<line x1="55.40" y1="769.30" x2="55.40" y2="787.00" stroke="#7a7a7a" stroke-width="0.8" />
<line x1="68.60" y1="769.30" x2="68.60" y2="787.00" stroke="#7a7a7a" stroke-width="0.8" />
<line x1="75.50" y1="769.30" x2="75.50" y2="787.00" stroke="#b0b0b0" stroke-width="0.8" />
<line x1="78.50" y1="769.30" x2="78.50" y2="787.00" stroke="#7a7a7a" stroke-width="0.8" />
<line x1="85.70" y1="769.30" x2="85.70" y2="787.00" stroke="#7a7a7a" stroke-width="0.8" />
<line x1="99.80" y1="769.30" x2="99.80" y2="787.00" stroke="#b0b0b0" stroke-width="0.8" />
<line x1="105.80" y1="769.30" x2="105.80" y2="787.00" stroke="#7a7a7a" stroke-width="0.8" />
<line x1="132.40" y1="769.30" x2="132.40" y2="787.00" stroke="#7a7a7a" stroke-width="0.8" />
<line x1="144.80" y1="769.30" x2="144.80" y2="787.00" stroke="#b0b0b0" stroke-width="0.8" />
<line x1="151.00" y1="769.30" x2="151.00" y2="787.00" stroke="#7a7a7a" stroke-width="0.8" />
<line x1="168.40" y1="769.30" x2="168.40" y2="787.00" stroke="#7a7a7a" stroke-width="0.8" />
<line x1="170.10" y1="769.30" x2="170.10" y2="787.00" stroke="#b0b0b0" stroke-width="0.8" />
<line x1="186.10" y1="769.30" x2="186.10" y2="787.00" stroke="#7a7a7a" stroke-width="0.8" />
<line x1="198.50" y1="769.30" x2="198.50" y2="787.00" stroke="#7a7a7a" stroke-width="0.8" />
<line x1="220.10" y1="769.30" x2="220.10" y2="787.00" stroke="#b0b0b0" stroke-width="0.8" />
<line x1="224.10" y1="769.30" x2="224.10" y2="787.00" stroke="#7a7a7a" stroke-width="0.8" />
<line x1="230.30" y1="769.30" x2="230.30" y2="787.00" stroke="#7a7a7a" stroke-width="0.8" />
<line x1="234.50" y1="769.30" x2="234.50" y2="787.00" stroke="#b0b0b0" stroke-width="0.8" />
<line x1="240.20" y1="769.30" x2="240.20" y2="787.00" stroke="#7a7a7a" stroke-width="0.8" />
<line x1="244.50" y1="769.30" x2="244.50" y2="787.00" stroke="#7a7a7a" stroke-width="0.8" />
<line x1="265.10" y1="769.30" x2="265.10" y2="787.00" stroke="#b0b0b0" stroke-width="0.8" />
<line x1="268.80" y1="769.30" x2="268.80" y2="787.00" stroke="#7a7a7a" stroke-width="0.8" />
<line x1="277.20" y1="769.30" x2="277.20" y2="787.00" stroke="#7a7a7a" stroke-width="0.8" />
<line x1="289.10" y1="769.30" x2="289.10" y2="787.00" stroke="#b0b0b0" stroke-width="0.8" />
<line x1="292.10" y1="769.30" x2="292.10" y2="787.00" stroke="#7a7a7a" stroke-width="0.8" />
<line x1="303.30" y1="769.30" x2="303.30" y2="787.00" stroke="#7a7a7a" stroke-width="0.8" />
<line x1="305.30" y1="769.30" x2="305.30" y2="787.00" stroke="#b0b0b0" stroke-width="0.8" />
<line x1="313.50" y1="769.30" x2="313.50" y2="787.00" stroke="#7a7a7a" stroke-width="0.8" />
<line x1="315.20" y1="769.30" x2="315.20" y2="787.00" stroke="#7a7a7a" stroke-width="0.8" />
<line x1="316.90" y1="769.30" x2="316.90" y2="787.00" stroke="#b0b0b0" stroke-width="0.8" />
<line x1="319.70" y1="769.30" x2="319.70" y2="787.00" stroke="#7a7a7a" stroke-width="0.8" />
<line x1="323.90" y1="769.30" x2="323.90" y2="787.00" stroke="#7a7a7a" stroke-width="0.8" />
<line x1="326.90" y1="769.30" x2="326.90" y2="787.00" stroke="#b0b0b0" stroke-width="0.8" />
<line x1="330.10" y1="769.30" x2="330.10" y2="787.00" stroke="#7a7a7a" stroke-width="0.8" />
<rect x="24.60" y="787.10" width="11.60" height="7.20" fill="#dc3c34" />
<rect x="36.20" y="787.10" width="14.80" height="7.20" fill="#f2735a" />
<rect x="51.00" y="787.10" width="28.00" height="7.20" fill="#fbb19b" />
<rect x="79.00" y="787.10" width="32.80" height="7.20" fill="#fde1d6" />
<rect x="111.80" y="787.10" width="24.20" height="7.20" fill="#eef1fa" />
<rect x="136.00" y="787.10" width="69.50" height="7.20" fill="#c3d9ea" />
<rect x="205.50" y="787.10" width="65.50" height="7.20" fill="#6eaed8" />
<rect x="271.00" y="787.10" width="36.00" height="7.20" fill="#3b87c2" />
<rect x="307.00" y="787.10" width="24.80" height="7.20" fill="#145ea8" />
<line x1="22.40" y1="797.00" x2="24.40" y2="797.00" stroke="#555" stroke-width="0.7" />
<text x="21.80" y="799.10" font-size="6" text-anchor="end" font-weight="bold" fill="#000" textLength="8.30" lengthAdjust="spacingAndGlyphs">0.6</text>
<line x1="22.40" y1="804.40" x2="24.40" y2="804.40" stroke="#555" stroke-width="0.7" />
<text x="21.80" y="806.50" font-size="6" text-anchor="end" font-weight="bold" fill="#000" textLength="8.30" lengthAdjust="spacingAndGlyphs">0.3</text>
<line x1="22.40" y1="814.50" x2="24.40" y2="814.50" stroke="#555" stroke-width="0.7" />
<text x="21.80" y="816.60" font-size="6" text-anchor="end" font-weight="bold" fill="#000" textLength="8.30" lengthAdjust="spacingAndGlyphs">0.0</text>
<line x1="22.40" y1="824.50" x2="24.40" y2="824.50" stroke="#555" stroke-width="0.7" />
<text x="21.80" y="826.60" font-size="6" text-anchor="end" font-weight="bold" fill="#000" textLength="10.00" lengthAdjust="spacingAndGlyphs">-0.3</text>
<path d="M24.4,814.5 L24.4,804.5 L26,805.6 L28,806.4 L32,807.3 L38,808.3 L46,809.4 L56,810.4 L70,811.5 L90,812.6 L110,813.3 L130,813.9 L154,814.4 L154,814.5 Z" fill="#bebebe"/>
<path d="M186,814.5 L186,815.0 L210,815.5 L240,816.2 L265,817.0 L285,818.0 L300,819.0 L312,820.0 L320,821.0 L326,822.3 L329.5,823.5 L331,825.0 L331.8,827.0 L331.8,814.5 Z" fill="#bebebe"/>
<line x1="24.40" y1="832.50" x2="332.50" y2="832.50" stroke="#7a7a7a" stroke-width="0.9" />
<line x1="123.00" y1="832.50" x2="123.00" y2="834.30" stroke="#555" stroke-width="0.7" />
<text x="123.00" y="839.60" font-size="7" text-anchor="middle" font-weight="bold" fill="#000">5000</text>
<line x1="222.90" y1="832.50" x2="222.90" y2="834.30" stroke="#555" stroke-width="0.7" />
<text x="222.90" y="839.60" font-size="7" text-anchor="middle" font-weight="bold" fill="#000">10000</text>
<line x1="322.60" y1="832.50" x2="322.60" y2="834.30" stroke="#555" stroke-width="0.7" />
<text x="322.60" y="839.60" font-size="7" text-anchor="middle" font-weight="bold" fill="#000">15000</text>
<text x="173.30" y="852.00" font-size="10" text-anchor="middle" font-weight="bold" fill="#000" textLength="116.10" lengthAdjust="spacingAndGlyphs">Rank in Ordered Dataset</text>
</svg></body></html>
